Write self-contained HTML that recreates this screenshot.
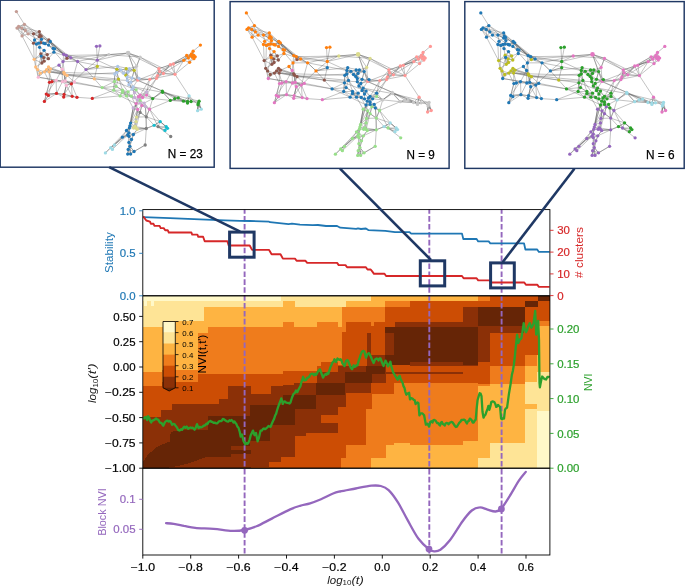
<!DOCTYPE html>
<html><head><meta charset="utf-8"><title>figure</title>
<style>
html,body{margin:0;padding:0;background:#fff;}
body{width:685px;height:587px;overflow:hidden;font-family:"Liberation Sans",sans-serif;}
svg{display:block;will-change:transform;}
svg text{font-family:"Liberation Sans",sans-serif;}
</style></head><body>
<svg width="685" height="587" viewBox="0 0 685 587">
<defs>
<clipPath id="c1"><rect x="142.8" y="209.6" width="407.1" height="86.2"/></clipPath>
<clipPath id="c2"><rect x="142.8" y="295.8" width="407.1" height="172.4"/></clipPath>
</defs>
<rect width="685" height="587" fill="#fff"/>
<rect x="0.2" y="0.2" width="214" height="167" fill="#fff" stroke="#1f3864" stroke-width="1.45"/>
<rect x="230.1" y="1.6" width="219" height="166.8" fill="#fff" stroke="#1f3864" stroke-width="1.45"/>
<rect x="464.8" y="1.6" width="219.4" height="166.8" fill="#fff" stroke="#1f3864" stroke-width="1.45"/>
<path d="M63.7 54.3L70.7 57.6M50.5 68.9L46.6 69.6M192.3 57.1L189.6 62.3M178.2 97.8L183.5 101.2M39.3 31.6L33.5 33.8M128.9 132.8L127.7 134.9M128.9 84.7L132.1 89.2M159.7 71.6L163.4 73.5M41.9 63.0L35.7 67.0M127.7 134.9L128.9 136.3M64.6 74.0L67.0 75.4M127.7 134.9L131.5 139.5M163.4 73.5L175.0 74.3M33.5 43.2L40.8 42.7M140.1 100.7L141.8 105.5M122.5 92.3L128.1 91.9M140.1 100.7L144.2 103.1M128.2 149.4L134.1 151.5M136.1 103.6L137.3 99.9M43.7 57.6L41.9 63.0M145.4 106.6L146.3 116.8M149.5 109.2L144.2 103.1M136.1 128.0L137.3 129.3M146.3 116.8L136.5 117.1M134.1 151.5L127.7 154.1M65.3 81.0L74.3 82.0M134.2 70.3L128.1 72.1M134.2 70.3L139.0 78.3M74.3 82.0L66.3 85.4M50.3 41.5L45.1 43.7M97.3 60.2L108.8 54.7M67.0 75.4L62.4 81.7M63.7 54.3L66.3 55.4M56.5 93.4L63.7 97.0M127.3 80.4L128.9 84.7M136.7 66.1L128.1 72.1M149.5 109.2L146.3 116.8M63.0 61.6L62.2 69.2M41.9 63.0L41.2 56.1M59.0 65.2L63.8 72.5M65.3 81.0L71.4 83.8M50.3 41.5L54.6 48.8M162.3 91.1L152.7 98.6M160.2 121.6L167.5 128.3M132.1 78.0L130.8 82.2M17.0 28.1L25.4 30.5M142.6 97.5L146.6 91.9M33.5 43.2L34.6 40.0M140.1 100.7L136.1 103.6M48.5 67.0L49.2 71.8M162.6 92.3L170.3 100.4M140.1 100.7L140.1 103.1M47.3 54.6L44.1 50.3M127.3 80.4L130.8 82.2M44.4 71.8L40.3 73.2M59.0 65.2L50.5 68.9M126.2 68.7L123.5 73.2M128.9 132.8L122.4 137.2M170.3 64.7L158.9 68.7M59.0 65.2L62.2 69.2M187.5 101.5L191.1 101.5M40.0 34.9L39.3 36.8M159.7 71.6L156.5 78.3M167.5 128.3L165.0 130.4M114.5 81.5L113.7 90.2M50.3 41.5L43.7 43.2M132.1 78.0L127.3 80.4M198.4 103.1L197.6 110.7M116.1 86.3L122.5 90.2M48.4 95.4L56.5 93.4M157.5 75.6L149.8 79.3M140.1 100.7L142.6 97.5M122.5 92.3L126.5 95.9M37.6 69.6L44.4 71.8M43.7 43.2L45.1 43.7M152.7 98.6L144.2 103.1M137.7 109.5L133.2 107.9M56.5 93.4L64.1 94.4M117.7 66.4L114.8 74.0M136.1 89.8L140.1 95.1M45.1 43.7L48.5 45.1M183.8 60.3L189.6 62.3M187.5 101.5L189.1 95.9M18.6 26.5L17.0 28.1M129.4 127.9L126.5 130.5M49.5 82.3L46.3 94.1M158.9 68.7L157.5 75.6M162.3 91.1L162.6 92.3M41.5 39.3L38.6 43.2M131.3 96.2L134.5 97.5M17.0 28.1L21.8 28.1M63.8 72.5L62.2 69.2M160.2 121.6L166.2 126.7M190.7 55.5L188.3 57.9M140.1 57.1L136.7 66.1M144.2 103.1L145.4 106.6M152.7 98.6L146.6 91.9M46.6 69.6L44.4 71.8M193.9 55.5L193.9 58.7M183.5 101.2L187.5 101.5M63.0 61.6L59.0 65.2M128.9 136.3L122.4 137.2M126.2 68.7L129.4 68.7M44.4 71.8L49.2 71.8M187.5 101.5L187.5 103.1M39.6 47.3L44.1 50.3M40.0 34.9L41.2 36.1M114.5 81.5L116.1 86.3M94.3 78.8L97.3 66.4M53.2 48.4L53.9 52.2M40.8 53.9L43.7 57.6M63.8 72.5L65.3 81.0M40.8 53.9L41.2 56.1M190.7 55.5L191.5 53.8M157.5 75.6L156.5 78.3M47.3 54.6L48.4 58.7M37.6 69.6L38.3 77.2M193.9 55.5L195.2 56.8M28.1 33.8L33.5 33.8M201.2 109.2L197.6 110.7M131.3 96.2L134.5 92.7M35.7 67.0L40.3 73.2M122.5 90.2L120.1 95.9M190.7 55.5L192.3 57.1M158.1 126.7L154.1 125.3M129.9 146.3L130.6 154.1M70.7 57.6L77.6 61.5M152.7 98.6L142.6 97.5M193.9 58.7L195.2 56.8M128.9 136.3L133.4 134.5M118.5 79.1L116.9 72.7M186.7 55.5L183.8 60.3M138.5 96.7L142.6 97.5M40.8 53.9L47.3 54.6M48.8 40.0L48.5 45.1M25.4 30.5L22.1 35.9M152.7 98.6L146.6 95.1M127.7 154.1L130.6 154.1M120.1 95.9L126.5 95.9M137.7 80.1L132.1 78.0M170.3 100.4L178.2 97.8M116.9 69.2L120.9 70.0M38.6 43.2L39.6 47.3M125.7 75.1L127.3 77.2M48.4 58.7L41.2 56.1M116.9 72.7L114.8 74.0M39.3 36.8L41.5 39.3M130.6 123.1L136.1 121.6M49.5 82.3L52.0 81.7M158.9 68.7L163.4 73.5M186.7 55.5L190.7 55.5M24.4 24.3L25.4 30.5M129.9 125.8L133.7 128.0M138.5 96.7L137.3 99.9M63.8 72.5L67.0 75.4M67.0 58.3L63.7 54.3M66.3 55.4L70.7 57.6M190.7 55.5L193.9 55.5M199.1 101.2L198.0 104.7M158.1 126.7L160.2 121.6M129.9 146.3L127.7 154.1M46.3 94.1L44.4 101.4M64.1 94.4L63.7 97.0M133.2 86.8L132.1 89.2M141.8 105.5L140.1 103.1M136.1 121.6L136.1 128.0M62.4 81.7L66.3 85.4M63.7 97.0L72.2 96.3M137.3 129.3L135.0 126.5M21.8 28.1L28.1 33.8M130.6 123.1L135.0 126.5M130.6 123.1L129.4 127.9M35.7 67.0L37.6 69.6M140.1 95.1L138.5 96.7M67.0 58.3L77.6 61.5M40.8 42.7L45.1 43.7M149.8 79.3L139.0 78.3M25.4 30.5L28.1 33.8M136.1 103.6L133.2 107.9M158.1 126.7L165.0 130.4M116.9 69.2L117.7 66.4M133.2 107.9L140.1 112.4M141.8 105.5L140.1 112.4M128.9 84.7L133.2 86.8M125.7 75.1L128.1 72.1M48.4 58.7L53.9 52.2M188.3 57.9L189.6 62.3M41.9 63.0L34.2 59.3M66.3 85.4L72.2 96.3M191.1 101.5L198.4 103.1M146.3 128.5L135.0 126.5M39.3 36.8L34.6 40.0M130.6 123.1L136.5 117.1M128.1 72.1L123.5 73.2M24.4 24.3L21.8 28.1M128.9 142.4L128.2 149.4M40.8 42.7L41.5 39.3M43.7 57.6L44.1 61.2M56.1 80.3L65.3 81.0M39.3 31.6L39.3 36.8M114.5 145.0L112.4 149.4M116.9 69.2L114.8 74.0M34.2 59.3L35.7 67.0M40.3 73.2L38.3 77.2M21.8 28.1L25.4 30.5M86.0 69.6L97.3 66.4M33.5 43.2L38.6 43.2M166.2 126.7L165.0 130.4M130.6 123.1L129.9 125.8M128.9 142.4L131.5 139.5M193.1 51.2L191.5 53.8M67.0 58.3L63.0 61.6M136.1 103.6L137.7 109.5M40.8 42.7L43.7 43.2M77.6 61.5L86.0 69.6M128.1 91.9L131.3 96.2M56.1 80.3L52.0 81.7M192.3 57.1L193.9 58.7M136.1 89.8L134.5 92.7M141.8 105.5L149.5 109.2M41.2 36.1L39.3 36.8M191.1 101.5L199.1 101.2M146.3 128.5L137.3 129.3M74.3 82.0L71.4 83.8M50.3 41.5L53.2 48.4M136.5 117.1L136.1 121.6M48.5 67.0L44.4 71.8M193.1 51.2L192.3 57.1M162.6 92.3L152.7 98.6M140.1 100.7L137.3 99.9M149.8 79.3L137.7 80.1M43.7 57.6L48.4 58.7M50.5 68.9L49.2 71.8M192.3 57.1L195.2 56.8M39.3 31.6L41.2 36.1M114.5 145.0L110.7 147.7M128.9 132.8L133.4 134.5M146.3 116.8L154.1 125.3M170.3 64.7L173.4 64.0M128.9 132.8L126.5 130.5M118.5 79.1L116.1 86.3M128.9 84.7L130.8 82.2M159.7 71.6L157.5 75.6M127.7 134.9L122.4 137.2M64.6 74.0L62.2 69.2M187.5 103.1L191.1 101.5M163.4 73.5L156.5 78.3M198.4 103.1L201.2 109.2M128.1 72.1L127.3 77.2M116.1 86.3L113.7 90.2M33.5 43.2L36.4 44.1M122.5 92.3L120.1 95.9M40.8 53.9L34.2 59.3M198.0 104.7L197.6 110.7M133.7 128.0L135.0 126.5M128.2 149.4L130.6 154.1M156.5 78.3L149.8 79.3M128.1 91.9L126.5 95.9M117.7 66.4L116.9 72.7M122.4 137.2L114.5 145.0M192.3 57.1L188.3 57.9M44.4 71.8L49.5 82.3M170.3 64.7L175.0 74.3M134.2 70.3L136.7 66.1M183.8 60.3L173.4 64.0M120.9 70.0L114.8 74.0M40.0 34.9L41.5 39.3M134.2 70.3L132.1 78.0M126.5 95.9L131.3 96.2M146.3 128.5L136.1 128.0M54.6 48.8L53.9 52.2M64.6 74.0L65.3 81.0M187.5 103.1L189.1 95.9M160.2 121.6L154.1 125.3M128.1 53.1L140.1 57.1M114.5 81.5L114.8 74.0M140.1 100.7L138.5 96.7M48.5 67.0L46.6 69.6M193.1 51.2L193.9 55.5M174.7 98.6L183.5 101.2M63.7 54.3L63.0 61.6M136.1 89.8L132.1 89.2M41.2 56.1L34.2 59.3M126.2 68.7L120.9 70.0M128.9 132.8L128.9 136.3M134.2 70.3L129.4 68.7M86.0 69.6L94.3 78.8M17.0 28.1L22.1 35.9M146.6 95.1L146.6 91.9M47.3 54.6L43.7 57.6M33.5 33.8L34.6 40.0M133.7 128.0L137.3 129.3M47.3 54.6L41.2 56.1M137.7 109.5L136.5 117.1M128.2 149.4L127.7 154.1M193.9 55.5L191.5 53.8M136.7 66.1L129.4 68.7M149.5 109.2L145.4 106.6M126.2 68.7L128.1 72.1M65.3 81.0L66.3 85.4M170.3 64.7L163.4 73.5M133.4 134.5L137.3 129.3M132.1 89.2L134.5 92.7M48.8 40.0L50.3 41.5M140.1 100.7L140.1 95.1M37.6 69.6L40.3 73.2M193.9 55.5L192.3 57.1M136.1 89.8L133.2 86.8M129.4 127.9L133.7 128.0M128.9 136.3L131.5 139.5M44.4 71.8L38.3 77.2M140.1 112.4L136.5 117.1M18.6 26.5L25.4 30.5M72.2 96.3L77.0 97.3M97.3 60.2L97.3 66.4M134.5 92.7L134.5 97.5M53.2 48.4L54.6 48.8M162.3 91.1L170.3 100.4M48.8 40.0L45.1 43.7M132.1 78.0L139.0 78.3M198.4 103.1L198.0 104.7M133.4 134.5L131.5 139.5M40.8 53.9L44.1 50.3M190.7 55.5L183.8 60.3M48.4 95.4L44.4 101.4M146.6 95.1L142.6 97.5M133.7 128.0L136.1 128.0M47.3 54.6L53.9 52.2M46.6 69.6L40.3 73.2M170.3 100.4L174.7 98.6M28.1 33.8L22.1 35.9M183.5 101.2L191.1 101.5M117.7 66.4L120.9 70.0M102.1 87.6L113.7 90.2M140.1 112.4L146.3 116.8M129.4 127.9L128.9 132.8M44.1 61.2L41.2 56.1M158.9 68.7L159.7 71.6M138.5 96.7L134.5 97.5M63.8 72.5L64.6 74.0M122.5 90.2L128.1 91.9M199.1 101.2L198.4 103.1M129.9 146.3L134.1 151.5M43.7 43.2L48.5 45.1M137.7 109.5L140.1 112.4M140.1 103.1L133.2 107.9M137.7 80.1L133.2 86.8M193.9 58.7L189.6 62.3M183.5 101.2L189.1 95.9M34.6 40.0L38.6 43.2M18.6 26.5L21.8 28.1M158.9 68.7L156.5 78.3M186.7 55.5L188.3 57.9M94.3 78.8L102.1 87.6M48.8 40.0L43.7 43.2M41.5 39.3L43.7 43.2M129.9 125.8L135.0 126.5M127.3 77.2L127.3 80.4M190.7 55.5L193.9 58.7M199.1 101.2L197.6 110.7M158.1 126.7L167.5 128.3M129.9 125.8L129.4 127.9M46.3 94.1L56.5 93.4M33.5 33.8L39.3 36.8M46.6 69.6L49.2 71.8M137.7 80.1L139.0 78.3M183.5 101.2L187.5 103.1M62.4 81.7L71.4 83.8M188.3 57.9L183.8 60.3M128.9 136.3L128.9 142.4M66.3 85.4L63.7 97.0M113.7 90.2L122.5 90.2M24.4 24.3L17.0 28.1M186.7 55.5L191.5 53.8M128.9 142.4L129.9 146.3M122.5 90.2L122.5 92.3M35.7 67.0L38.3 77.2M190.7 55.5L195.2 56.8M129.9 146.3L128.2 149.4M56.1 80.3L62.4 81.7M129.9 125.8L126.5 130.5M49.2 71.8L52.0 81.7M140.1 103.1L145.4 106.6M48.4 58.7L44.1 61.2M116.9 69.2L116.9 72.7M62.4 81.7L65.3 81.0M125.7 75.1L127.3 80.4M66.3 85.4L71.4 83.8M110.7 147.7L112.4 149.4M44.1 61.2L41.9 63.0M34.6 40.0L36.4 44.1M113.7 90.2L120.1 95.9M166.2 126.7L167.5 128.3M67.0 58.3L70.7 57.6M66.3 55.4L77.6 61.5M122.5 90.2L126.5 95.9M127.3 77.2L132.1 78.0M140.1 95.1L146.6 91.9M134.1 151.5L145.2 145.0M40.8 42.7L38.6 43.2M36.4 44.1L38.6 43.2M199.1 101.2L201.2 109.2M158.1 126.7L166.2 126.7M129.9 146.3L131.5 139.5M46.3 94.1L48.4 95.4M56.1 80.3L49.5 82.3M141.8 105.5L137.7 109.5M38.6 43.2L43.7 43.2M137.7 80.1L130.8 82.2M133.2 86.8L130.8 82.2M141.8 105.5L145.4 106.6M136.1 121.6L135.0 126.5M48.5 45.1L54.6 48.8M62.4 81.7L52.0 81.7M125.7 75.1L123.5 73.2M66.3 85.4L64.1 94.4M118.5 79.1L114.8 74.0M129.4 68.7L128.1 72.1M130.8 82.2L139.0 78.3M24.4 24.3L18.6 26.5M44.1 50.3L41.2 56.1M67.0 75.4L74.3 82.0M36.4 44.1L39.6 47.3M40.8 42.7L39.6 47.3M50.5 68.9L44.4 71.8M43.7 57.6L41.2 56.1M192.3 57.1L191.5 53.8M178.2 97.8L187.5 101.5M49.2 71.8L49.5 82.3M39.3 31.6L40.0 34.9M173.4 64.0L175.0 74.3M140.1 103.1L144.2 103.1M118.5 79.1L114.5 81.5M128.1 91.9L132.1 89.2M41.2 36.1L41.5 39.3M127.7 134.9L133.4 134.5M191.1 101.5L189.1 95.9M146.3 128.5L154.1 125.3M127.7 134.9L126.5 130.5M163.4 73.5L157.5 75.6M67.0 58.3L66.3 55.4M66.3 55.4L63.0 61.6M198.0 104.7L201.2 109.2M140.1 95.1L142.6 97.5M136.1 103.6L140.1 103.1M64.1 94.4L72.2 96.3M136.1 128.0L135.0 126.5M134.1 151.5L130.6 154.1M141.8 105.5L144.2 103.1M125.7 75.1L129.4 68.7M48.5 45.1L53.2 48.4M120.9 70.0L116.9 72.7M120.9 70.0L123.5 73.2M134.5 97.5L137.3 99.9M50.3 41.5L48.5 45.1M21.8 28.1L22.1 35.9M122.4 137.2L126.5 130.5M48.5 67.0L50.5 68.9M67.0 75.4L65.3 81.0M193.1 51.2L190.7 55.5M140.1 95.1L146.6 95.1M174.7 98.6L178.2 97.8M140.1 95.1L137.3 99.9M16.4 11.6L24.4 24.3M22.1 35.9L34.2 59.3M17.0 28.1L33.5 43.2M18.6 26.5L39.3 31.6M24.4 24.3L48.8 40.0M24.4 24.3L41.5 39.3M25.4 30.5L50.3 41.5M28.1 33.8L45.1 43.7M21.8 28.1L40.0 34.9M39.3 31.6L63.7 54.3M41.2 36.1L66.3 55.4M48.8 40.0L70.7 57.6M50.3 41.5L67.0 58.3M40.0 34.9L63.7 54.3M48.8 40.0L63.7 54.3M54.6 48.8L66.3 55.4M53.9 52.2L70.7 57.6M53.2 48.4L63.7 54.3M50.3 41.5L66.3 55.4M48.5 45.1L63.0 61.6M33.5 43.2L34.2 59.3M36.4 44.1L35.7 67.0M39.6 47.3L41.9 63.0M44.1 50.3L48.4 58.7M41.2 56.1L37.6 69.6M66.3 55.4L108.8 54.7M70.7 57.6L97.3 60.2M63.7 54.3L97.3 60.2M70.7 57.6L128.1 53.1M77.6 61.5L108.8 54.7M96.5 46.3L97.3 60.2M99.9 45.9L97.3 60.2M97.3 60.2L128.1 53.1M97.3 60.2L116.9 69.2M97.3 60.2L86.0 69.6M108.8 54.7L128.1 53.1M128.1 53.1L140.1 57.1M108.8 54.7L140.1 57.1M128.1 53.1L134.2 70.3M128.1 53.1L137.7 80.1M140.1 57.1L136.7 66.1M136.7 66.1L137.7 80.1M128.1 53.1L136.7 66.1M140.1 57.1L158.9 68.7M140.1 57.1L175.0 74.3M128.1 53.1L158.9 68.7M63.0 61.6L77.6 61.5M77.6 61.5L86.0 69.6M59.0 65.2L62.2 69.2M63.0 61.6L64.6 74.0M77.6 61.5L71.4 83.8M86.0 69.6L71.4 83.8M86.0 69.6L97.3 66.4M86.0 69.6L117.7 66.4M77.6 61.5L116.9 69.2M50.5 68.9L63.8 72.5M49.2 71.8L64.6 74.0M50.5 68.9L64.6 74.0M48.5 67.0L63.8 72.5M46.6 69.6L67.0 75.4M49.2 71.8L67.0 75.4M44.4 71.8L63.8 72.5M67.0 75.4L94.3 78.8M64.6 74.0L94.3 78.8M63.8 72.5L114.8 74.0M67.0 75.4L116.9 72.7M64.6 74.0L118.5 79.1M94.3 78.8L114.5 81.5M94.3 78.8L127.3 80.4M38.3 77.2L56.1 80.3M38.3 77.2L102.1 87.6M40.3 73.2L38.3 77.2M56.1 80.3L46.3 94.1M56.1 80.3L56.5 93.4M52.0 81.7L48.4 95.4M49.5 82.3L44.4 101.4M62.4 81.7L56.5 93.4M65.3 81.0L71.4 83.8M66.3 85.4L64.1 94.4M71.4 83.8L64.1 94.4M71.4 83.8L77.0 97.3M71.4 83.8L72.2 96.3M74.3 82.0L71.4 83.8M74.3 82.0L102.1 87.6M46.3 94.1L56.5 93.4M56.5 93.4L64.1 94.4M64.1 94.4L72.2 96.3M72.2 96.3L77.0 97.3M77.0 97.3L92.3 98.4M92.3 98.4L120.1 95.9M92.3 98.4L113.7 90.2M44.4 101.4L48.4 95.4M44.4 101.4L56.5 93.4M62.2 69.2L62.4 81.7M62.2 69.2L56.1 80.3M63.8 72.5L65.3 81.0M102.1 87.6L114.5 81.5M102.1 87.6L116.1 86.3M102.1 87.6L120.1 95.9M137.7 80.1L149.8 79.3M149.8 79.3L158.9 68.7M156.5 78.3L170.3 64.7M157.5 75.6L173.4 64.0M158.9 68.7L183.8 60.3M159.7 71.6L186.7 55.5M163.4 73.5L188.3 57.9M170.3 64.7L186.7 55.5M173.4 64.0L190.7 55.5M173.4 64.0L183.8 60.3M175.0 74.3L189.6 62.3M175.0 74.3L183.8 60.3M163.4 73.5L175.0 74.3M175.0 74.3L189.1 95.9M189.1 95.9L198.0 104.7M193.1 51.2L200.4 45.1M149.8 79.3L175.0 74.3M137.7 80.1L159.7 71.6M137.7 80.1L162.3 91.1M132.1 78.0L162.3 91.1M133.2 86.8L162.6 92.3M162.3 91.1L187.5 101.5M162.6 92.3L199.1 101.2M162.3 91.1L183.5 101.2M162.6 92.3L178.2 97.8M162.3 91.1L174.7 98.6M146.6 95.1L152.7 98.6M152.7 98.6L170.3 100.4M152.7 98.6L162.3 91.1M170.3 100.4L183.5 101.2M170.3 100.4L191.1 101.5M149.5 109.2L170.3 100.4M152.7 98.6L149.5 109.2M198.0 104.7L201.2 109.2M198.0 104.7L197.6 110.7M198.4 103.1L201.2 109.2M149.8 79.3L146.6 91.9M156.5 78.3L146.6 95.1M149.8 79.3L140.1 95.1M156.5 78.3L136.1 103.6M137.7 109.5L130.6 123.1M133.2 107.9L129.9 125.8M136.1 103.6L130.6 123.1M137.7 109.5L136.5 117.1M140.1 112.4L136.1 121.6M133.2 107.9L128.9 132.8M136.1 103.6L129.4 127.9M141.8 105.5L136.1 128.0M137.7 109.5L133.7 128.0M133.2 107.9L127.7 134.9M140.1 112.4L146.3 116.8M146.3 116.8L146.3 128.5M146.3 128.5L145.2 145.0M145.2 145.0L134.1 151.5M146.3 128.5L137.3 129.3M146.3 128.5L154.1 125.3M146.3 116.8L160.2 121.6M154.1 125.3L160.2 121.6M160.2 121.6L166.2 126.7M158.1 126.7L170.7 136.5M154.1 125.3L165.0 130.4M149.5 109.2L160.2 121.6M149.5 109.2L146.3 116.8M145.4 106.6L146.3 128.5M149.5 109.2L158.1 126.7M122.4 137.2L105.4 152.9M122.4 137.2L110.7 147.7M127.7 134.9L112.4 149.4M128.9 132.8L114.5 145.0M129.4 127.9L105.4 152.9M128.9 136.3L128.9 142.4M128.9 142.4L129.9 146.3M129.9 146.3L134.1 151.5M128.2 149.4L127.7 154.1M129.9 146.3L130.6 154.1M133.4 134.5L129.9 146.3M133.4 134.5L137.3 129.3M133.4 134.5L146.3 128.5M116.9 69.2L134.2 70.3M117.7 66.4L129.4 68.7M114.8 74.0L113.7 90.2M116.9 72.7L122.5 90.2M118.5 79.1L128.1 91.9M127.3 80.4L134.5 92.7M128.9 84.7L140.1 95.1M133.2 86.8L146.6 91.9M132.1 89.2L138.5 96.7M120.1 95.9L136.1 103.6M126.5 95.9L133.2 107.9M131.3 96.2L137.7 109.5M120.9 70.0L132.1 78.0M116.9 69.2L127.3 77.2M126.2 68.7L127.3 80.4M134.2 70.3L132.1 78.0M134.2 70.3L137.7 80.1M125.7 75.1L128.9 84.7M114.5 81.5L136.1 89.8M116.1 86.3L131.3 96.2M113.7 90.2L140.1 100.7M122.5 92.3L134.5 97.5" stroke="#5a5a5a" stroke-width="0.5" fill="none" stroke-opacity="0.72"/>
<circle cx="16.4" cy="11.6" r="1.65" fill="#c49c94"/>
<circle cx="24.4" cy="24.3" r="1.65" fill="#c49c94"/>
<circle cx="18.6" cy="26.5" r="1.65" fill="#c49c94"/>
<circle cx="17.0" cy="28.1" r="1.65" fill="#c49c94"/>
<circle cx="21.8" cy="28.1" r="1.65" fill="#c49c94"/>
<circle cx="25.4" cy="30.5" r="1.65" fill="#c49c94"/>
<circle cx="28.1" cy="33.8" r="1.65" fill="#c49c94"/>
<circle cx="22.1" cy="35.9" r="1.65" fill="#c49c94"/>
<circle cx="39.3" cy="31.6" r="1.65" fill="#8c564b"/>
<circle cx="33.5" cy="33.8" r="1.65" fill="#8c564b"/>
<circle cx="40.0" cy="34.9" r="1.65" fill="#8c564b"/>
<circle cx="41.2" cy="36.1" r="1.65" fill="#8c564b"/>
<circle cx="39.3" cy="36.8" r="1.65" fill="#8c564b"/>
<circle cx="48.8" cy="40.0" r="1.65" fill="#8c564b"/>
<circle cx="33.5" cy="43.2" r="1.65" fill="#8c564b"/>
<circle cx="40.8" cy="42.7" r="1.65" fill="#8c564b"/>
<circle cx="40.8" cy="53.9" r="1.65" fill="#8c564b"/>
<circle cx="47.3" cy="54.6" r="1.65" fill="#8c564b"/>
<circle cx="43.7" cy="57.6" r="1.65" fill="#8c564b"/>
<circle cx="48.4" cy="58.7" r="1.65" fill="#8c564b"/>
<circle cx="44.1" cy="61.2" r="1.65" fill="#8c564b"/>
<circle cx="41.9" cy="63.0" r="1.65" fill="#8c564b"/>
<circle cx="67.0" cy="58.3" r="1.65" fill="#8c564b"/>
<circle cx="34.6" cy="40.0" r="1.65" fill="#1f77b4"/>
<circle cx="41.5" cy="39.3" r="1.65" fill="#1f77b4"/>
<circle cx="50.3" cy="41.5" r="1.65" fill="#1f77b4"/>
<circle cx="36.4" cy="44.1" r="1.65" fill="#1f77b4"/>
<circle cx="38.6" cy="43.2" r="1.65" fill="#1f77b4"/>
<circle cx="43.7" cy="43.2" r="1.65" fill="#1f77b4"/>
<circle cx="45.1" cy="43.7" r="1.65" fill="#1f77b4"/>
<circle cx="48.5" cy="45.1" r="1.65" fill="#1f77b4"/>
<circle cx="39.6" cy="47.3" r="1.65" fill="#1f77b4"/>
<circle cx="53.2" cy="48.4" r="1.65" fill="#1f77b4"/>
<circle cx="54.6" cy="48.8" r="1.65" fill="#1f77b4"/>
<circle cx="44.1" cy="50.3" r="1.65" fill="#1f77b4"/>
<circle cx="53.9" cy="52.2" r="1.65" fill="#1f77b4"/>
<circle cx="41.2" cy="56.1" r="1.65" fill="#1f77b4"/>
<circle cx="130.6" cy="123.1" r="1.65" fill="#1f77b4"/>
<circle cx="129.9" cy="125.8" r="1.65" fill="#1f77b4"/>
<circle cx="129.4" cy="127.9" r="1.65" fill="#1f77b4"/>
<circle cx="128.9" cy="132.8" r="1.65" fill="#1f77b4"/>
<circle cx="127.7" cy="134.9" r="1.65" fill="#1f77b4"/>
<circle cx="128.9" cy="136.3" r="1.65" fill="#1f77b4"/>
<circle cx="133.4" cy="134.5" r="1.65" fill="#1f77b4"/>
<circle cx="122.4" cy="137.2" r="1.65" fill="#1f77b4"/>
<circle cx="128.9" cy="142.4" r="1.65" fill="#1f77b4"/>
<circle cx="129.9" cy="146.3" r="1.65" fill="#1f77b4"/>
<circle cx="128.2" cy="149.4" r="1.65" fill="#1f77b4"/>
<circle cx="134.1" cy="151.5" r="1.65" fill="#1f77b4"/>
<circle cx="127.7" cy="154.1" r="1.65" fill="#1f77b4"/>
<circle cx="130.6" cy="154.1" r="1.65" fill="#1f77b4"/>
<circle cx="131.5" cy="139.5" r="1.65" fill="#1f77b4"/>
<circle cx="126.5" cy="130.5" r="1.65" fill="#1f77b4"/>
<circle cx="96.5" cy="46.3" r="1.65" fill="#9467bd"/>
<circle cx="99.9" cy="45.9" r="1.65" fill="#9467bd"/>
<circle cx="63.7" cy="54.3" r="1.65" fill="#9467bd"/>
<circle cx="66.3" cy="55.4" r="1.65" fill="#9467bd"/>
<circle cx="70.7" cy="57.6" r="1.65" fill="#9467bd"/>
<circle cx="63.0" cy="61.6" r="1.65" fill="#9467bd"/>
<circle cx="77.6" cy="61.5" r="1.65" fill="#9467bd"/>
<circle cx="97.3" cy="60.2" r="1.65" fill="#9467bd"/>
<circle cx="59.0" cy="65.2" r="1.65" fill="#9467bd"/>
<circle cx="86.0" cy="69.6" r="1.65" fill="#9467bd"/>
<circle cx="34.2" cy="59.3" r="1.65" fill="#ffbb78"/>
<circle cx="35.7" cy="67.0" r="1.65" fill="#ffbb78"/>
<circle cx="37.6" cy="69.6" r="1.65" fill="#ffbb78"/>
<circle cx="48.5" cy="67.0" r="1.65" fill="#ffbb78"/>
<circle cx="50.5" cy="68.9" r="1.65" fill="#ffbb78"/>
<circle cx="46.6" cy="69.6" r="1.65" fill="#ffbb78"/>
<circle cx="44.4" cy="71.8" r="1.65" fill="#ffbb78"/>
<circle cx="49.2" cy="71.8" r="1.65" fill="#ffbb78"/>
<circle cx="40.3" cy="73.2" r="1.65" fill="#ffbb78"/>
<circle cx="63.8" cy="72.5" r="1.65" fill="#ffbb78"/>
<circle cx="64.6" cy="74.0" r="1.65" fill="#ffbb78"/>
<circle cx="67.0" cy="75.4" r="1.65" fill="#ffbb78"/>
<circle cx="94.3" cy="78.8" r="1.65" fill="#ffbb78"/>
<circle cx="62.2" cy="69.2" r="1.65" fill="#f7b6d2"/>
<circle cx="38.3" cy="77.2" r="1.65" fill="#f7b6d2"/>
<circle cx="56.1" cy="80.3" r="1.65" fill="#f7b6d2"/>
<circle cx="62.4" cy="81.7" r="1.65" fill="#f7b6d2"/>
<circle cx="65.3" cy="81.0" r="1.65" fill="#f7b6d2"/>
<circle cx="74.3" cy="82.0" r="1.65" fill="#f7b6d2"/>
<circle cx="66.3" cy="85.4" r="1.65" fill="#f7b6d2"/>
<circle cx="49.5" cy="82.3" r="1.65" fill="#d62728"/>
<circle cx="52.0" cy="81.7" r="1.65" fill="#d62728"/>
<circle cx="71.4" cy="83.8" r="1.65" fill="#d62728"/>
<circle cx="46.3" cy="94.1" r="1.65" fill="#d62728"/>
<circle cx="48.4" cy="95.4" r="1.65" fill="#d62728"/>
<circle cx="56.5" cy="93.4" r="1.65" fill="#d62728"/>
<circle cx="64.1" cy="94.4" r="1.65" fill="#d62728"/>
<circle cx="63.7" cy="97.0" r="1.65" fill="#d62728"/>
<circle cx="72.2" cy="96.3" r="1.65" fill="#d62728"/>
<circle cx="77.0" cy="97.3" r="1.65" fill="#d62728"/>
<circle cx="92.3" cy="98.4" r="1.65" fill="#d62728"/>
<circle cx="44.4" cy="101.4" r="1.65" fill="#d62728"/>
<circle cx="97.3" cy="66.4" r="1.65" fill="#bcbd22"/>
<circle cx="116.9" cy="69.2" r="1.65" fill="#bcbd22"/>
<circle cx="126.2" cy="68.7" r="1.65" fill="#bcbd22"/>
<circle cx="134.2" cy="70.3" r="1.65" fill="#bcbd22"/>
<circle cx="125.7" cy="75.1" r="1.65" fill="#bcbd22"/>
<circle cx="118.5" cy="79.1" r="1.65" fill="#bcbd22"/>
<circle cx="102.1" cy="87.6" r="1.65" fill="#98df8a"/>
<circle cx="114.5" cy="81.5" r="1.65" fill="#98df8a"/>
<circle cx="116.1" cy="86.3" r="1.65" fill="#98df8a"/>
<circle cx="113.7" cy="90.2" r="1.65" fill="#98df8a"/>
<circle cx="122.5" cy="90.2" r="1.65" fill="#98df8a"/>
<circle cx="122.5" cy="92.3" r="1.65" fill="#98df8a"/>
<circle cx="128.1" cy="91.9" r="1.65" fill="#98df8a"/>
<circle cx="136.1" cy="89.8" r="1.65" fill="#98df8a"/>
<circle cx="120.1" cy="95.9" r="1.65" fill="#98df8a"/>
<circle cx="126.5" cy="95.9" r="1.65" fill="#98df8a"/>
<circle cx="131.3" cy="96.2" r="1.65" fill="#98df8a"/>
<circle cx="140.1" cy="100.7" r="1.65" fill="#98df8a"/>
<circle cx="200.4" cy="45.1" r="1.65" fill="#ff7f0e"/>
<circle cx="193.1" cy="51.2" r="1.65" fill="#ff7f0e"/>
<circle cx="186.7" cy="55.5" r="1.65" fill="#ff7f0e"/>
<circle cx="190.7" cy="55.5" r="1.65" fill="#ff7f0e"/>
<circle cx="193.9" cy="55.5" r="1.65" fill="#ff7f0e"/>
<circle cx="192.3" cy="57.1" r="1.65" fill="#ff7f0e"/>
<circle cx="188.3" cy="57.9" r="1.65" fill="#ff7f0e"/>
<circle cx="193.9" cy="58.7" r="1.65" fill="#ff7f0e"/>
<circle cx="183.8" cy="60.3" r="1.65" fill="#ff7f0e"/>
<circle cx="189.6" cy="62.3" r="1.65" fill="#ff7f0e"/>
<circle cx="191.5" cy="53.8" r="1.65" fill="#ff7f0e"/>
<circle cx="195.2" cy="56.8" r="1.65" fill="#ff7f0e"/>
<circle cx="128.1" cy="53.1" r="2.3" fill="#c7c7c7"/>
<circle cx="108.8" cy="54.7" r="1.65" fill="#c7c7c7"/>
<circle cx="140.1" cy="57.1" r="1.65" fill="#c7c7c7"/>
<circle cx="136.7" cy="66.1" r="1.65" fill="#c7c7c7"/>
<circle cx="170.3" cy="64.7" r="1.65" fill="#ff9896"/>
<circle cx="173.4" cy="64.0" r="1.65" fill="#ff9896"/>
<circle cx="158.9" cy="68.7" r="1.65" fill="#ff9896"/>
<circle cx="159.7" cy="71.6" r="1.65" fill="#ff9896"/>
<circle cx="163.4" cy="73.5" r="1.65" fill="#ff9896"/>
<circle cx="175.0" cy="74.3" r="1.65" fill="#ff9896"/>
<circle cx="157.5" cy="75.6" r="1.65" fill="#ff9896"/>
<circle cx="156.5" cy="78.3" r="1.65" fill="#ff9896"/>
<circle cx="149.8" cy="79.3" r="1.65" fill="#ff9896"/>
<circle cx="137.7" cy="80.1" r="1.65" fill="#ff9896"/>
<circle cx="117.7" cy="66.4" r="1.65" fill="#aec7e8"/>
<circle cx="120.9" cy="70.0" r="1.65" fill="#aec7e8"/>
<circle cx="129.4" cy="68.7" r="1.65" fill="#aec7e8"/>
<circle cx="116.9" cy="72.7" r="1.65" fill="#aec7e8"/>
<circle cx="114.8" cy="74.0" r="1.65" fill="#aec7e8"/>
<circle cx="128.1" cy="72.1" r="1.65" fill="#aec7e8"/>
<circle cx="127.3" cy="77.2" r="1.65" fill="#aec7e8"/>
<circle cx="132.1" cy="78.0" r="1.65" fill="#aec7e8"/>
<circle cx="127.3" cy="80.4" r="1.65" fill="#aec7e8"/>
<circle cx="128.9" cy="84.7" r="1.65" fill="#aec7e8"/>
<circle cx="133.2" cy="86.8" r="1.65" fill="#aec7e8"/>
<circle cx="132.1" cy="89.2" r="1.65" fill="#aec7e8"/>
<circle cx="123.5" cy="73.2" r="1.65" fill="#aec7e8"/>
<circle cx="130.8" cy="82.2" r="1.65" fill="#aec7e8"/>
<circle cx="139.0" cy="78.3" r="1.65" fill="#aec7e8"/>
<circle cx="162.3" cy="91.1" r="1.65" fill="#2ca02c"/>
<circle cx="162.6" cy="92.3" r="1.65" fill="#2ca02c"/>
<circle cx="152.7" cy="98.6" r="1.65" fill="#2ca02c"/>
<circle cx="170.3" cy="100.4" r="1.65" fill="#2ca02c"/>
<circle cx="174.7" cy="98.6" r="1.65" fill="#2ca02c"/>
<circle cx="178.2" cy="97.8" r="1.65" fill="#2ca02c"/>
<circle cx="183.5" cy="101.2" r="1.65" fill="#2ca02c"/>
<circle cx="187.5" cy="101.5" r="1.65" fill="#2ca02c"/>
<circle cx="187.5" cy="103.1" r="1.65" fill="#2ca02c"/>
<circle cx="191.1" cy="101.5" r="1.65" fill="#2ca02c"/>
<circle cx="199.1" cy="101.2" r="1.65" fill="#2ca02c"/>
<circle cx="198.4" cy="103.1" r="1.65" fill="#2ca02c"/>
<circle cx="198.0" cy="104.7" r="1.65" fill="#2ca02c"/>
<circle cx="189.1" cy="95.9" r="1.65" fill="#9edae5"/>
<circle cx="201.2" cy="109.2" r="1.65" fill="#9edae5"/>
<circle cx="197.6" cy="110.7" r="1.65" fill="#9edae5"/>
<circle cx="114.5" cy="145.0" r="1.65" fill="#9edae5"/>
<circle cx="110.7" cy="147.7" r="1.65" fill="#9edae5"/>
<circle cx="112.4" cy="149.4" r="1.65" fill="#9edae5"/>
<circle cx="105.4" cy="152.9" r="1.65" fill="#9edae5"/>
<circle cx="140.1" cy="95.1" r="1.65" fill="#e377c2"/>
<circle cx="138.5" cy="96.7" r="1.65" fill="#e377c2"/>
<circle cx="146.6" cy="95.1" r="1.65" fill="#e377c2"/>
<circle cx="136.1" cy="103.6" r="1.65" fill="#e377c2"/>
<circle cx="141.8" cy="105.5" r="1.65" fill="#e377c2"/>
<circle cx="137.7" cy="109.5" r="1.65" fill="#e377c2"/>
<circle cx="149.5" cy="109.2" r="1.65" fill="#e377c2"/>
<circle cx="142.6" cy="97.5" r="1.65" fill="#e377c2"/>
<circle cx="146.6" cy="91.9" r="1.65" fill="#c5b0d5"/>
<circle cx="134.5" cy="92.7" r="1.65" fill="#c5b0d5"/>
<circle cx="134.5" cy="97.5" r="1.65" fill="#c5b0d5"/>
<circle cx="137.3" cy="99.9" r="1.65" fill="#c5b0d5"/>
<circle cx="140.1" cy="103.1" r="1.65" fill="#c5b0d5"/>
<circle cx="144.2" cy="103.1" r="1.65" fill="#c5b0d5"/>
<circle cx="145.4" cy="106.6" r="1.65" fill="#c5b0d5"/>
<circle cx="133.2" cy="107.9" r="1.65" fill="#c5b0d5"/>
<circle cx="140.1" cy="112.4" r="1.65" fill="#7f7f7f"/>
<circle cx="146.3" cy="116.8" r="1.65" fill="#7f7f7f"/>
<circle cx="146.3" cy="128.5" r="1.65" fill="#7f7f7f"/>
<circle cx="158.1" cy="126.7" r="1.65" fill="#7f7f7f"/>
<circle cx="170.7" cy="136.5" r="1.65" fill="#7f7f7f"/>
<circle cx="145.2" cy="145.0" r="1.65" fill="#7f7f7f"/>
<circle cx="136.5" cy="117.1" r="1.65" fill="#dbdb8d"/>
<circle cx="136.1" cy="121.6" r="1.65" fill="#dbdb8d"/>
<circle cx="133.7" cy="128.0" r="1.65" fill="#dbdb8d"/>
<circle cx="136.1" cy="128.0" r="1.65" fill="#dbdb8d"/>
<circle cx="137.3" cy="129.3" r="1.65" fill="#dbdb8d"/>
<circle cx="135.0" cy="126.5" r="1.65" fill="#dbdb8d"/>
<circle cx="160.2" cy="121.6" r="1.65" fill="#17becf"/>
<circle cx="154.1" cy="125.3" r="1.65" fill="#17becf"/>
<circle cx="166.2" cy="126.7" r="1.65" fill="#17becf"/>
<circle cx="167.5" cy="128.3" r="1.65" fill="#17becf"/>
<circle cx="165.0" cy="130.4" r="1.65" fill="#17becf"/>
<path d="M293.7 55.6L300.7 58.9M280.5 70.2L276.6 70.9M422.3 58.4L419.6 63.6M408.2 99.1L413.5 102.5M269.3 32.9L263.5 35.1M358.9 134.1L357.7 136.2M358.9 86.0L362.1 90.5M389.7 72.9L393.4 74.8M271.9 64.3L265.7 68.3M357.7 136.2L358.9 137.6M294.6 75.3L297.0 76.7M357.7 136.2L361.5 140.8M393.4 74.8L405.0 75.6M263.5 44.5L270.8 44.0M370.1 102.0L371.8 106.8M352.5 93.6L358.1 93.2M370.1 102.0L374.2 104.4M358.2 150.7L364.1 152.8M366.1 104.9L367.3 101.2M273.7 58.9L271.9 64.3M375.4 107.9L376.3 118.1M379.5 110.5L374.2 104.4M366.1 129.3L367.3 130.6M376.3 118.1L366.5 118.4M364.1 152.8L357.7 155.4M295.3 82.3L304.3 83.3M364.2 71.6L358.1 73.4M364.2 71.6L369.0 79.6M304.3 83.3L296.3 86.7M280.3 42.8L275.1 45.0M327.3 61.5L338.8 56.0M297.0 76.7L292.4 83.0M293.7 55.6L296.3 56.7M286.5 94.7L293.7 98.3M357.3 81.7L358.9 86.0M366.7 67.4L358.1 73.4M379.5 110.5L376.3 118.1M293.0 62.9L292.2 70.5M271.9 64.3L271.2 57.4M289.0 66.5L293.8 73.8M295.3 82.3L301.4 85.1M280.3 42.8L284.6 50.1M392.3 92.4L382.7 99.9M390.2 122.9L397.5 129.6M362.1 79.3L360.8 83.5M247.0 29.4L255.4 31.8M372.6 98.8L376.6 93.2M263.5 44.5L264.6 41.3M370.1 102.0L366.1 104.9M278.5 68.3L279.2 73.1M392.6 93.6L400.3 101.7M370.1 102.0L370.1 104.4M277.3 55.9L274.1 51.6M357.3 81.7L360.8 83.5M274.4 73.1L270.3 74.5M289.0 66.5L280.5 70.2M356.2 70.0L353.5 74.5M358.9 134.1L352.4 138.5M400.3 66.0L388.9 70.0M289.0 66.5L292.2 70.5M417.5 102.8L421.1 102.8M270.0 36.2L269.3 38.1M389.7 72.9L386.5 79.6M397.5 129.6L395.0 131.7M344.5 82.8L343.7 91.5M280.3 42.8L273.7 44.5M362.1 79.3L357.3 81.7M428.4 104.4L427.6 112.0M346.1 87.6L352.5 91.5M278.4 96.7L286.5 94.7M387.5 76.9L379.8 80.6M370.1 102.0L372.6 98.8M352.5 93.6L356.5 97.2M267.6 70.9L274.4 73.1M273.7 44.5L275.1 45.0M382.7 99.9L374.2 104.4M367.7 110.8L363.2 109.2M286.5 94.7L294.1 95.7M347.7 67.7L344.8 75.3M366.1 91.1L370.1 96.4M275.1 45.0L278.5 46.4M413.8 61.6L419.6 63.6M417.5 102.8L419.1 97.2M248.6 27.8L247.0 29.4M359.4 129.2L356.5 131.8M279.5 83.6L276.3 95.4M388.9 70.0L387.5 76.9M392.3 92.4L392.6 93.6M271.5 40.6L268.6 44.5M361.3 97.5L364.5 98.8M247.0 29.4L251.8 29.4M293.8 73.8L292.2 70.5M390.2 122.9L396.2 128.0M420.7 56.8L418.3 59.2M370.1 58.4L366.7 67.4M374.2 104.4L375.4 107.9M382.7 99.9L376.6 93.2M276.6 70.9L274.4 73.1M423.9 56.8L423.9 60.0M413.5 102.5L417.5 102.8M293.0 62.9L289.0 66.5M358.9 137.6L352.4 138.5M356.2 70.0L359.4 70.0M274.4 73.1L279.2 73.1M417.5 102.8L417.5 104.4M269.6 48.6L274.1 51.6M270.0 36.2L271.2 37.4M344.5 82.8L346.1 87.6M324.3 80.1L327.3 67.7M283.2 49.7L283.9 53.5M270.8 55.2L273.7 58.9M293.8 73.8L295.3 82.3M270.8 55.2L271.2 57.4M420.7 56.8L421.5 55.1M387.5 76.9L386.5 79.6M277.3 55.9L278.4 60.0M267.6 70.9L268.3 78.5M423.9 56.8L425.2 58.1M258.1 35.1L263.5 35.1M431.2 110.5L427.6 112.0M361.3 97.5L364.5 94.0M265.7 68.3L270.3 74.5M352.5 91.5L350.1 97.2M420.7 56.8L422.3 58.4M388.1 128.0L384.1 126.6M359.9 147.6L360.6 155.4M300.7 58.9L307.6 62.8M382.7 99.9L372.6 98.8M423.9 60.0L425.2 58.1M358.9 137.6L363.4 135.8M348.5 80.4L346.9 74.0M416.7 56.8L413.8 61.6M368.5 98.0L372.6 98.8M270.8 55.2L277.3 55.9M278.8 41.3L278.5 46.4M255.4 31.8L252.1 37.2M382.7 99.9L376.6 96.4M357.7 155.4L360.6 155.4M350.1 97.2L356.5 97.2M367.7 81.4L362.1 79.3M400.3 101.7L408.2 99.1M346.9 70.5L350.9 71.3M268.6 44.5L269.6 48.6M355.7 76.4L357.3 78.5M278.4 60.0L271.2 57.4M346.9 74.0L344.8 75.3M269.3 38.1L271.5 40.6M360.6 124.4L366.1 122.9M279.5 83.6L282.0 83.0M388.9 70.0L393.4 74.8M416.7 56.8L420.7 56.8M254.4 25.6L255.4 31.8M359.9 127.1L363.7 129.3M368.5 98.0L367.3 101.2M293.8 73.8L297.0 76.7M297.0 59.6L293.7 55.6M296.3 56.7L300.7 58.9M420.7 56.8L423.9 56.8M429.1 102.5L428.0 106.0M388.1 128.0L390.2 122.9M359.9 147.6L357.7 155.4M276.3 95.4L274.4 102.7M294.1 95.7L293.7 98.3M363.2 88.1L362.1 90.5M371.8 106.8L370.1 104.4M366.1 122.9L366.1 129.3M292.4 83.0L296.3 86.7M293.7 98.3L302.2 97.6M367.3 130.6L365.0 127.8M251.8 29.4L258.1 35.1M360.6 124.4L365.0 127.8M360.6 124.4L359.4 129.2M265.7 68.3L267.6 70.9M370.1 96.4L368.5 98.0M297.0 59.6L307.6 62.8M270.8 44.0L275.1 45.0M379.8 80.6L369.0 79.6M255.4 31.8L258.1 35.1M366.1 104.9L363.2 109.2M388.1 128.0L395.0 131.7M346.9 70.5L347.7 67.7M363.2 109.2L370.1 113.7M371.8 106.8L370.1 113.7M358.9 86.0L363.2 88.1M355.7 76.4L358.1 73.4M278.4 60.0L283.9 53.5M418.3 59.2L419.6 63.6M271.9 64.3L264.2 60.6M296.3 86.7L302.2 97.6M421.1 102.8L428.4 104.4M376.3 129.8L365.0 127.8M269.3 38.1L264.6 41.3M360.6 124.4L366.5 118.4M358.1 73.4L353.5 74.5M254.4 25.6L251.8 29.4M358.9 143.7L358.2 150.7M270.8 44.0L271.5 40.6M273.7 58.9L274.1 62.5M286.1 81.6L295.3 82.3M269.3 32.9L269.3 38.1M344.5 146.3L342.4 150.7M346.9 70.5L344.8 75.3M264.2 60.6L265.7 68.3M270.3 74.5L268.3 78.5M251.8 29.4L255.4 31.8M316.0 70.9L327.3 67.7M263.5 44.5L268.6 44.5M396.2 128.0L395.0 131.7M360.6 124.4L359.9 127.1M358.9 143.7L361.5 140.8M423.1 52.5L421.5 55.1M297.0 59.6L293.0 62.9M366.1 104.9L367.7 110.8M270.8 44.0L273.7 44.5M307.6 62.8L316.0 70.9M358.1 93.2L361.3 97.5M286.1 81.6L282.0 83.0M422.3 58.4L423.9 60.0M366.1 91.1L364.5 94.0M371.8 106.8L379.5 110.5M271.2 37.4L269.3 38.1M421.1 102.8L429.1 102.5M376.3 129.8L367.3 130.6M304.3 83.3L301.4 85.1M280.3 42.8L283.2 49.7M366.5 118.4L366.1 122.9M278.5 68.3L274.4 73.1M423.1 52.5L422.3 58.4M392.6 93.6L382.7 99.9M370.1 102.0L367.3 101.2M379.8 80.6L367.7 81.4M273.7 58.9L278.4 60.0M280.5 70.2L279.2 73.1M422.3 58.4L425.2 58.1M269.3 32.9L271.2 37.4M344.5 146.3L340.7 149.0M358.9 134.1L363.4 135.8M376.3 118.1L384.1 126.6M400.3 66.0L403.4 65.3M358.9 134.1L356.5 131.8M348.5 80.4L346.1 87.6M358.9 86.0L360.8 83.5M389.7 72.9L387.5 76.9M357.7 136.2L352.4 138.5M294.6 75.3L292.2 70.5M417.5 104.4L421.1 102.8M393.4 74.8L386.5 79.6M428.4 104.4L431.2 110.5M358.1 73.4L357.3 78.5M346.1 87.6L343.7 91.5M263.5 44.5L266.4 45.4M352.5 93.6L350.1 97.2M270.8 55.2L264.2 60.6M428.0 106.0L427.6 112.0M363.7 129.3L365.0 127.8M358.2 150.7L360.6 155.4M386.5 79.6L379.8 80.6M358.1 93.2L356.5 97.2M347.7 67.7L346.9 74.0M352.4 138.5L344.5 146.3M422.3 58.4L418.3 59.2M274.4 73.1L279.5 83.6M400.3 66.0L405.0 75.6M364.2 71.6L366.7 67.4M413.8 61.6L403.4 65.3M350.9 71.3L344.8 75.3M270.0 36.2L271.5 40.6M364.2 71.6L362.1 79.3M356.5 97.2L361.3 97.5M376.3 129.8L366.1 129.3M284.6 50.1L283.9 53.5M294.6 75.3L295.3 82.3M417.5 104.4L419.1 97.2M390.2 122.9L384.1 126.6M358.1 54.4L370.1 58.4M344.5 82.8L344.8 75.3M370.1 102.0L368.5 98.0M278.5 68.3L276.6 70.9M423.1 52.5L423.9 56.8M404.7 99.9L413.5 102.5M293.7 55.6L293.0 62.9M366.1 91.1L362.1 90.5M271.2 57.4L264.2 60.6M356.2 70.0L350.9 71.3M358.9 134.1L358.9 137.6M364.2 71.6L359.4 70.0M316.0 70.9L324.3 80.1M247.0 29.4L252.1 37.2M376.6 96.4L376.6 93.2M277.3 55.9L273.7 58.9M263.5 35.1L264.6 41.3M363.7 129.3L367.3 130.6M277.3 55.9L271.2 57.4M367.7 110.8L366.5 118.4M358.2 150.7L357.7 155.4M423.9 56.8L421.5 55.1M366.7 67.4L359.4 70.0M379.5 110.5L375.4 107.9M356.2 70.0L358.1 73.4M295.3 82.3L296.3 86.7M400.3 66.0L393.4 74.8M363.4 135.8L367.3 130.6M362.1 90.5L364.5 94.0M278.8 41.3L280.3 42.8M370.1 102.0L370.1 96.4M267.6 70.9L270.3 74.5M423.9 56.8L422.3 58.4M366.1 91.1L363.2 88.1M359.4 129.2L363.7 129.3M358.9 137.6L361.5 140.8M274.4 73.1L268.3 78.5M370.1 113.7L366.5 118.4M248.6 27.8L255.4 31.8M302.2 97.6L307.0 98.6M327.3 61.5L327.3 67.7M364.5 94.0L364.5 98.8M283.2 49.7L284.6 50.1M392.3 92.4L400.3 101.7M278.8 41.3L275.1 45.0M362.1 79.3L369.0 79.6M428.4 104.4L428.0 106.0M363.4 135.8L361.5 140.8M270.8 55.2L274.1 51.6M420.7 56.8L413.8 61.6M278.4 96.7L274.4 102.7M376.6 96.4L372.6 98.8M363.7 129.3L366.1 129.3M277.3 55.9L283.9 53.5M276.6 70.9L270.3 74.5M400.3 101.7L404.7 99.9M258.1 35.1L252.1 37.2M413.5 102.5L421.1 102.8M347.7 67.7L350.9 71.3M332.1 88.9L343.7 91.5M370.1 113.7L376.3 118.1M359.4 129.2L358.9 134.1M274.1 62.5L271.2 57.4M388.9 70.0L389.7 72.9M368.5 98.0L364.5 98.8M293.8 73.8L294.6 75.3M352.5 91.5L358.1 93.2M429.1 102.5L428.4 104.4M359.9 147.6L364.1 152.8M273.7 44.5L278.5 46.4M367.7 110.8L370.1 113.7M370.1 104.4L363.2 109.2M367.7 81.4L363.2 88.1M423.9 60.0L419.6 63.6M413.5 102.5L419.1 97.2M264.6 41.3L268.6 44.5M248.6 27.8L251.8 29.4M388.9 70.0L386.5 79.6M416.7 56.8L418.3 59.2M324.3 80.1L332.1 88.9M278.8 41.3L273.7 44.5M271.5 40.6L273.7 44.5M359.9 127.1L365.0 127.8M357.3 78.5L357.3 81.7M420.7 56.8L423.9 60.0M429.1 102.5L427.6 112.0M388.1 128.0L397.5 129.6M359.9 127.1L359.4 129.2M276.3 95.4L286.5 94.7M263.5 35.1L269.3 38.1M276.6 70.9L279.2 73.1M367.7 81.4L369.0 79.6M413.5 102.5L417.5 104.4M292.4 83.0L301.4 85.1M418.3 59.2L413.8 61.6M358.9 137.6L358.9 143.7M296.3 86.7L293.7 98.3M343.7 91.5L352.5 91.5M254.4 25.6L247.0 29.4M416.7 56.8L421.5 55.1M358.9 143.7L359.9 147.6M352.5 91.5L352.5 93.6M265.7 68.3L268.3 78.5M420.7 56.8L425.2 58.1M359.9 147.6L358.2 150.7M286.1 81.6L292.4 83.0M359.9 127.1L356.5 131.8M279.2 73.1L282.0 83.0M370.1 104.4L375.4 107.9M278.4 60.0L274.1 62.5M346.9 70.5L346.9 74.0M292.4 83.0L295.3 82.3M355.7 76.4L357.3 81.7M296.3 86.7L301.4 85.1M340.7 149.0L342.4 150.7M274.1 62.5L271.9 64.3M264.6 41.3L266.4 45.4M343.7 91.5L350.1 97.2M396.2 128.0L397.5 129.6M297.0 59.6L300.7 58.9M296.3 56.7L307.6 62.8M352.5 91.5L356.5 97.2M357.3 78.5L362.1 79.3M370.1 96.4L376.6 93.2M364.1 152.8L375.2 146.3M270.8 44.0L268.6 44.5M266.4 45.4L268.6 44.5M429.1 102.5L431.2 110.5M388.1 128.0L396.2 128.0M359.9 147.6L361.5 140.8M276.3 95.4L278.4 96.7M286.1 81.6L279.5 83.6M371.8 106.8L367.7 110.8M268.6 44.5L273.7 44.5M367.7 81.4L360.8 83.5M363.2 88.1L360.8 83.5M371.8 106.8L375.4 107.9M366.1 122.9L365.0 127.8M278.5 46.4L284.6 50.1M292.4 83.0L282.0 83.0M355.7 76.4L353.5 74.5M296.3 86.7L294.1 95.7M348.5 80.4L344.8 75.3M359.4 70.0L358.1 73.4M360.8 83.5L369.0 79.6M254.4 25.6L248.6 27.8M274.1 51.6L271.2 57.4M297.0 76.7L304.3 83.3M266.4 45.4L269.6 48.6M270.8 44.0L269.6 48.6M280.5 70.2L274.4 73.1M273.7 58.9L271.2 57.4M422.3 58.4L421.5 55.1M408.2 99.1L417.5 102.8M279.2 73.1L279.5 83.6M269.3 32.9L270.0 36.2M403.4 65.3L405.0 75.6M370.1 104.4L374.2 104.4M348.5 80.4L344.5 82.8M358.1 93.2L362.1 90.5M271.2 37.4L271.5 40.6M357.7 136.2L363.4 135.8M421.1 102.8L419.1 97.2M376.3 129.8L384.1 126.6M357.7 136.2L356.5 131.8M393.4 74.8L387.5 76.9M297.0 59.6L296.3 56.7M296.3 56.7L293.0 62.9M428.0 106.0L431.2 110.5M370.1 96.4L372.6 98.8M366.1 104.9L370.1 104.4M294.1 95.7L302.2 97.6M366.1 129.3L365.0 127.8M364.1 152.8L360.6 155.4M371.8 106.8L374.2 104.4M355.7 76.4L359.4 70.0M278.5 46.4L283.2 49.7M350.9 71.3L346.9 74.0M350.9 71.3L353.5 74.5M364.5 98.8L367.3 101.2M280.3 42.8L278.5 46.4M251.8 29.4L252.1 37.2M352.4 138.5L356.5 131.8M278.5 68.3L280.5 70.2M297.0 76.7L295.3 82.3M423.1 52.5L420.7 56.8M370.1 96.4L376.6 96.4M404.7 99.9L408.2 99.1M370.1 96.4L367.3 101.2M246.4 12.9L254.4 25.6M252.1 37.2L264.2 60.6M247.0 29.4L263.5 44.5M248.6 27.8L269.3 32.9M254.4 25.6L278.8 41.3M254.4 25.6L271.5 40.6M255.4 31.8L280.3 42.8M258.1 35.1L275.1 45.0M251.8 29.4L270.0 36.2M269.3 32.9L293.7 55.6M271.2 37.4L296.3 56.7M278.8 41.3L300.7 58.9M280.3 42.8L297.0 59.6M270.0 36.2L293.7 55.6M278.8 41.3L293.7 55.6M284.6 50.1L296.3 56.7M283.9 53.5L300.7 58.9M283.2 49.7L293.7 55.6M280.3 42.8L296.3 56.7M278.5 46.4L293.0 62.9M263.5 44.5L264.2 60.6M266.4 45.4L265.7 68.3M269.6 48.6L271.9 64.3M274.1 51.6L278.4 60.0M271.2 57.4L267.6 70.9M296.3 56.7L338.8 56.0M300.7 58.9L327.3 61.5M293.7 55.6L327.3 61.5M300.7 58.9L358.1 54.4M307.6 62.8L338.8 56.0M326.5 47.6L327.3 61.5M329.9 47.2L327.3 61.5M327.3 61.5L358.1 54.4M327.3 61.5L346.9 70.5M327.3 61.5L316.0 70.9M338.8 56.0L358.1 54.4M358.1 54.4L370.1 58.4M338.8 56.0L370.1 58.4M358.1 54.4L364.2 71.6M358.1 54.4L367.7 81.4M370.1 58.4L366.7 67.4M366.7 67.4L367.7 81.4M358.1 54.4L366.7 67.4M370.1 58.4L388.9 70.0M370.1 58.4L405.0 75.6M358.1 54.4L388.9 70.0M293.0 62.9L307.6 62.8M307.6 62.8L316.0 70.9M289.0 66.5L292.2 70.5M293.0 62.9L294.6 75.3M307.6 62.8L301.4 85.1M316.0 70.9L301.4 85.1M316.0 70.9L327.3 67.7M316.0 70.9L347.7 67.7M307.6 62.8L346.9 70.5M280.5 70.2L293.8 73.8M279.2 73.1L294.6 75.3M280.5 70.2L294.6 75.3M278.5 68.3L293.8 73.8M276.6 70.9L297.0 76.7M279.2 73.1L297.0 76.7M274.4 73.1L293.8 73.8M297.0 76.7L324.3 80.1M294.6 75.3L324.3 80.1M293.8 73.8L344.8 75.3M297.0 76.7L346.9 74.0M294.6 75.3L348.5 80.4M324.3 80.1L344.5 82.8M324.3 80.1L357.3 81.7M268.3 78.5L286.1 81.6M268.3 78.5L332.1 88.9M270.3 74.5L268.3 78.5M286.1 81.6L276.3 95.4M286.1 81.6L286.5 94.7M282.0 83.0L278.4 96.7M279.5 83.6L274.4 102.7M292.4 83.0L286.5 94.7M295.3 82.3L301.4 85.1M296.3 86.7L294.1 95.7M301.4 85.1L294.1 95.7M301.4 85.1L307.0 98.6M301.4 85.1L302.2 97.6M304.3 83.3L301.4 85.1M304.3 83.3L332.1 88.9M276.3 95.4L286.5 94.7M286.5 94.7L294.1 95.7M294.1 95.7L302.2 97.6M302.2 97.6L307.0 98.6M307.0 98.6L322.3 99.7M322.3 99.7L350.1 97.2M322.3 99.7L343.7 91.5M274.4 102.7L278.4 96.7M274.4 102.7L286.5 94.7M292.2 70.5L292.4 83.0M292.2 70.5L286.1 81.6M293.8 73.8L295.3 82.3M332.1 88.9L344.5 82.8M332.1 88.9L346.1 87.6M332.1 88.9L350.1 97.2M367.7 81.4L379.8 80.6M379.8 80.6L388.9 70.0M386.5 79.6L400.3 66.0M387.5 76.9L403.4 65.3M388.9 70.0L413.8 61.6M389.7 72.9L416.7 56.8M393.4 74.8L418.3 59.2M400.3 66.0L416.7 56.8M403.4 65.3L420.7 56.8M403.4 65.3L413.8 61.6M405.0 75.6L419.6 63.6M405.0 75.6L413.8 61.6M393.4 74.8L405.0 75.6M405.0 75.6L419.1 97.2M419.1 97.2L428.0 106.0M423.1 52.5L430.4 46.4M379.8 80.6L405.0 75.6M367.7 81.4L389.7 72.9M367.7 81.4L392.3 92.4M362.1 79.3L392.3 92.4M363.2 88.1L392.6 93.6M392.3 92.4L417.5 102.8M392.6 93.6L429.1 102.5M392.3 92.4L413.5 102.5M392.6 93.6L408.2 99.1M392.3 92.4L404.7 99.9M376.6 96.4L382.7 99.9M382.7 99.9L400.3 101.7M382.7 99.9L392.3 92.4M400.3 101.7L413.5 102.5M400.3 101.7L421.1 102.8M379.5 110.5L400.3 101.7M382.7 99.9L379.5 110.5M428.0 106.0L431.2 110.5M428.0 106.0L427.6 112.0M428.4 104.4L431.2 110.5M379.8 80.6L376.6 93.2M386.5 79.6L376.6 96.4M379.8 80.6L370.1 96.4M386.5 79.6L366.1 104.9M367.7 110.8L360.6 124.4M363.2 109.2L359.9 127.1M366.1 104.9L360.6 124.4M367.7 110.8L366.5 118.4M370.1 113.7L366.1 122.9M363.2 109.2L358.9 134.1M366.1 104.9L359.4 129.2M371.8 106.8L366.1 129.3M367.7 110.8L363.7 129.3M363.2 109.2L357.7 136.2M370.1 113.7L376.3 118.1M376.3 118.1L376.3 129.8M376.3 129.8L375.2 146.3M375.2 146.3L364.1 152.8M376.3 129.8L367.3 130.6M376.3 129.8L384.1 126.6M376.3 118.1L390.2 122.9M384.1 126.6L390.2 122.9M390.2 122.9L396.2 128.0M388.1 128.0L400.7 137.8M384.1 126.6L395.0 131.7M379.5 110.5L390.2 122.9M379.5 110.5L376.3 118.1M375.4 107.9L376.3 129.8M379.5 110.5L388.1 128.0M352.4 138.5L335.4 154.2M352.4 138.5L340.7 149.0M357.7 136.2L342.4 150.7M358.9 134.1L344.5 146.3M359.4 129.2L335.4 154.2M358.9 137.6L358.9 143.7M358.9 143.7L359.9 147.6M359.9 147.6L364.1 152.8M358.2 150.7L357.7 155.4M359.9 147.6L360.6 155.4M363.4 135.8L359.9 147.6M363.4 135.8L367.3 130.6M363.4 135.8L376.3 129.8M346.9 70.5L364.2 71.6M347.7 67.7L359.4 70.0M344.8 75.3L343.7 91.5M346.9 74.0L352.5 91.5M348.5 80.4L358.1 93.2M357.3 81.7L364.5 94.0M358.9 86.0L370.1 96.4M363.2 88.1L376.6 93.2M362.1 90.5L368.5 98.0M350.1 97.2L366.1 104.9M356.5 97.2L363.2 109.2M361.3 97.5L367.7 110.8M350.9 71.3L362.1 79.3M346.9 70.5L357.3 78.5M356.2 70.0L357.3 81.7M364.2 71.6L362.1 79.3M364.2 71.6L367.7 81.4M355.7 76.4L358.9 86.0M344.5 82.8L366.1 91.1M346.1 87.6L361.3 97.5M343.7 91.5L370.1 102.0M352.5 93.6L364.5 98.8" stroke="#5a5a5a" stroke-width="0.5" fill="none" stroke-opacity="0.72"/>
<circle cx="246.4" cy="12.9" r="1.65" fill="#ff7f0e"/>
<circle cx="254.4" cy="25.6" r="1.65" fill="#ff7f0e"/>
<circle cx="248.6" cy="27.8" r="1.65" fill="#ff7f0e"/>
<circle cx="247.0" cy="29.4" r="1.65" fill="#ff7f0e"/>
<circle cx="251.8" cy="29.4" r="1.65" fill="#ff7f0e"/>
<circle cx="255.4" cy="31.8" r="1.65" fill="#ff7f0e"/>
<circle cx="258.1" cy="35.1" r="1.65" fill="#ff7f0e"/>
<circle cx="252.1" cy="37.2" r="1.65" fill="#ff7f0e"/>
<circle cx="269.3" cy="32.9" r="1.65" fill="#ff7f0e"/>
<circle cx="263.5" cy="35.1" r="1.65" fill="#ff7f0e"/>
<circle cx="270.0" cy="36.2" r="1.65" fill="#ff7f0e"/>
<circle cx="271.2" cy="37.4" r="1.65" fill="#ff7f0e"/>
<circle cx="269.3" cy="38.1" r="1.65" fill="#ff7f0e"/>
<circle cx="278.8" cy="41.3" r="1.65" fill="#ff7f0e"/>
<circle cx="263.5" cy="44.5" r="1.65" fill="#ff7f0e"/>
<circle cx="270.8" cy="44.0" r="1.65" fill="#ff7f0e"/>
<circle cx="270.8" cy="55.2" r="1.65" fill="#8c564b"/>
<circle cx="277.3" cy="55.9" r="1.65" fill="#8c564b"/>
<circle cx="273.7" cy="58.9" r="1.65" fill="#8c564b"/>
<circle cx="278.4" cy="60.0" r="1.65" fill="#8c564b"/>
<circle cx="274.1" cy="62.5" r="1.65" fill="#8c564b"/>
<circle cx="271.9" cy="64.3" r="1.65" fill="#8c564b"/>
<circle cx="297.0" cy="59.6" r="1.65" fill="#8c564b"/>
<circle cx="264.6" cy="41.3" r="1.65" fill="#ff7f0e"/>
<circle cx="271.5" cy="40.6" r="1.65" fill="#ff7f0e"/>
<circle cx="280.3" cy="42.8" r="1.65" fill="#ff7f0e"/>
<circle cx="266.4" cy="45.4" r="1.65" fill="#ff7f0e"/>
<circle cx="268.6" cy="44.5" r="1.65" fill="#ff7f0e"/>
<circle cx="273.7" cy="44.5" r="1.65" fill="#ff7f0e"/>
<circle cx="275.1" cy="45.0" r="1.65" fill="#ff7f0e"/>
<circle cx="278.5" cy="46.4" r="1.65" fill="#ff7f0e"/>
<circle cx="269.6" cy="48.6" r="1.65" fill="#ff7f0e"/>
<circle cx="283.2" cy="49.7" r="1.65" fill="#ff7f0e"/>
<circle cx="284.6" cy="50.1" r="1.65" fill="#ff7f0e"/>
<circle cx="274.1" cy="51.6" r="1.65" fill="#ff7f0e"/>
<circle cx="283.9" cy="53.5" r="1.65" fill="#ff7f0e"/>
<circle cx="271.2" cy="57.4" r="1.65" fill="#ff7f0e"/>
<circle cx="360.6" cy="124.4" r="1.65" fill="#98df8a"/>
<circle cx="359.9" cy="127.1" r="1.65" fill="#98df8a"/>
<circle cx="359.4" cy="129.2" r="1.65" fill="#98df8a"/>
<circle cx="358.9" cy="134.1" r="1.65" fill="#98df8a"/>
<circle cx="357.7" cy="136.2" r="1.65" fill="#98df8a"/>
<circle cx="358.9" cy="137.6" r="1.65" fill="#98df8a"/>
<circle cx="363.4" cy="135.8" r="1.65" fill="#98df8a"/>
<circle cx="352.4" cy="138.5" r="1.65" fill="#98df8a"/>
<circle cx="358.9" cy="143.7" r="1.65" fill="#98df8a"/>
<circle cx="359.9" cy="147.6" r="1.65" fill="#98df8a"/>
<circle cx="358.2" cy="150.7" r="1.65" fill="#98df8a"/>
<circle cx="364.1" cy="152.8" r="1.65" fill="#98df8a"/>
<circle cx="357.7" cy="155.4" r="1.65" fill="#98df8a"/>
<circle cx="360.6" cy="155.4" r="1.65" fill="#98df8a"/>
<circle cx="361.5" cy="140.8" r="1.65" fill="#98df8a"/>
<circle cx="356.5" cy="131.8" r="1.65" fill="#98df8a"/>
<circle cx="326.5" cy="47.6" r="1.65" fill="#ff7f0e"/>
<circle cx="329.9" cy="47.2" r="1.65" fill="#ff7f0e"/>
<circle cx="293.7" cy="55.6" r="1.65" fill="#ff7f0e"/>
<circle cx="296.3" cy="56.7" r="1.65" fill="#ff7f0e"/>
<circle cx="300.7" cy="58.9" r="1.65" fill="#ff7f0e"/>
<circle cx="293.0" cy="62.9" r="1.65" fill="#ff7f0e"/>
<circle cx="307.6" cy="62.8" r="1.65" fill="#ff7f0e"/>
<circle cx="327.3" cy="61.5" r="1.65" fill="#ff7f0e"/>
<circle cx="289.0" cy="66.5" r="1.65" fill="#ff7f0e"/>
<circle cx="316.0" cy="70.9" r="1.65" fill="#ff7f0e"/>
<circle cx="264.2" cy="60.6" r="1.65" fill="#8c564b"/>
<circle cx="265.7" cy="68.3" r="1.65" fill="#8c564b"/>
<circle cx="267.6" cy="70.9" r="1.65" fill="#8c564b"/>
<circle cx="278.5" cy="68.3" r="1.65" fill="#8c564b"/>
<circle cx="280.5" cy="70.2" r="1.65" fill="#8c564b"/>
<circle cx="276.6" cy="70.9" r="1.65" fill="#8c564b"/>
<circle cx="274.4" cy="73.1" r="1.65" fill="#8c564b"/>
<circle cx="279.2" cy="73.1" r="1.65" fill="#8c564b"/>
<circle cx="270.3" cy="74.5" r="1.65" fill="#8c564b"/>
<circle cx="293.8" cy="73.8" r="1.65" fill="#8c564b"/>
<circle cx="294.6" cy="75.3" r="1.65" fill="#8c564b"/>
<circle cx="297.0" cy="76.7" r="1.65" fill="#8c564b"/>
<circle cx="324.3" cy="80.1" r="1.65" fill="#8c564b"/>
<circle cx="292.2" cy="70.5" r="1.65" fill="#e377c2"/>
<circle cx="268.3" cy="78.5" r="1.65" fill="#e377c2"/>
<circle cx="286.1" cy="81.6" r="1.65" fill="#e377c2"/>
<circle cx="292.4" cy="83.0" r="1.65" fill="#e377c2"/>
<circle cx="295.3" cy="82.3" r="1.65" fill="#e377c2"/>
<circle cx="304.3" cy="83.3" r="1.65" fill="#e377c2"/>
<circle cx="296.3" cy="86.7" r="1.65" fill="#e377c2"/>
<circle cx="279.5" cy="83.6" r="1.65" fill="#e377c2"/>
<circle cx="282.0" cy="83.0" r="1.65" fill="#e377c2"/>
<circle cx="301.4" cy="85.1" r="1.65" fill="#e377c2"/>
<circle cx="276.3" cy="95.4" r="1.65" fill="#e377c2"/>
<circle cx="278.4" cy="96.7" r="1.65" fill="#e377c2"/>
<circle cx="286.5" cy="94.7" r="1.65" fill="#e377c2"/>
<circle cx="294.1" cy="95.7" r="1.65" fill="#e377c2"/>
<circle cx="293.7" cy="98.3" r="1.65" fill="#e377c2"/>
<circle cx="302.2" cy="97.6" r="1.65" fill="#e377c2"/>
<circle cx="307.0" cy="98.6" r="1.65" fill="#e377c2"/>
<circle cx="322.3" cy="99.7" r="1.65" fill="#e377c2"/>
<circle cx="274.4" cy="102.7" r="1.65" fill="#e377c2"/>
<circle cx="327.3" cy="67.7" r="1.65" fill="#1f77b4"/>
<circle cx="346.9" cy="70.5" r="1.65" fill="#1f77b4"/>
<circle cx="356.2" cy="70.0" r="1.65" fill="#1f77b4"/>
<circle cx="364.2" cy="71.6" r="1.65" fill="#1f77b4"/>
<circle cx="355.7" cy="76.4" r="1.65" fill="#1f77b4"/>
<circle cx="348.5" cy="80.4" r="1.65" fill="#1f77b4"/>
<circle cx="332.1" cy="88.9" r="1.65" fill="#1f77b4"/>
<circle cx="344.5" cy="82.8" r="1.65" fill="#1f77b4"/>
<circle cx="346.1" cy="87.6" r="1.65" fill="#1f77b4"/>
<circle cx="343.7" cy="91.5" r="1.65" fill="#1f77b4"/>
<circle cx="352.5" cy="91.5" r="1.65" fill="#1f77b4"/>
<circle cx="352.5" cy="93.6" r="1.65" fill="#1f77b4"/>
<circle cx="358.1" cy="93.2" r="1.65" fill="#1f77b4"/>
<circle cx="366.1" cy="91.1" r="1.65" fill="#1f77b4"/>
<circle cx="350.1" cy="97.2" r="1.65" fill="#1f77b4"/>
<circle cx="356.5" cy="97.2" r="1.65" fill="#1f77b4"/>
<circle cx="361.3" cy="97.5" r="1.65" fill="#1f77b4"/>
<circle cx="370.1" cy="102.0" r="1.65" fill="#1f77b4"/>
<circle cx="430.4" cy="46.4" r="1.65" fill="#ff9896"/>
<circle cx="423.1" cy="52.5" r="1.65" fill="#ff9896"/>
<circle cx="416.7" cy="56.8" r="1.65" fill="#ff9896"/>
<circle cx="420.7" cy="56.8" r="1.65" fill="#ff9896"/>
<circle cx="423.9" cy="56.8" r="1.65" fill="#ff9896"/>
<circle cx="422.3" cy="58.4" r="1.65" fill="#ff9896"/>
<circle cx="418.3" cy="59.2" r="1.65" fill="#ff9896"/>
<circle cx="423.9" cy="60.0" r="1.65" fill="#ff9896"/>
<circle cx="413.8" cy="61.6" r="1.65" fill="#ff9896"/>
<circle cx="419.6" cy="63.6" r="1.65" fill="#ff9896"/>
<circle cx="421.5" cy="55.1" r="1.65" fill="#ff9896"/>
<circle cx="425.2" cy="58.1" r="1.65" fill="#ff9896"/>
<circle cx="358.1" cy="54.4" r="2.3" fill="#dbdb8d"/>
<circle cx="338.8" cy="56.0" r="1.65" fill="#dbdb8d"/>
<circle cx="370.1" cy="58.4" r="1.65" fill="#dbdb8d"/>
<circle cx="366.7" cy="67.4" r="1.65" fill="#dbdb8d"/>
<circle cx="400.3" cy="66.0" r="1.65" fill="#ff9896"/>
<circle cx="403.4" cy="65.3" r="1.65" fill="#ff9896"/>
<circle cx="388.9" cy="70.0" r="1.65" fill="#ff9896"/>
<circle cx="389.7" cy="72.9" r="1.65" fill="#ff9896"/>
<circle cx="393.4" cy="74.8" r="1.65" fill="#ff9896"/>
<circle cx="405.0" cy="75.6" r="1.65" fill="#ff9896"/>
<circle cx="387.5" cy="76.9" r="1.65" fill="#ff9896"/>
<circle cx="386.5" cy="79.6" r="1.65" fill="#ff9896"/>
<circle cx="379.8" cy="80.6" r="1.65" fill="#ff9896"/>
<circle cx="367.7" cy="81.4" r="1.65" fill="#ff9896"/>
<circle cx="347.7" cy="67.7" r="1.65" fill="#1f77b4"/>
<circle cx="350.9" cy="71.3" r="1.65" fill="#1f77b4"/>
<circle cx="359.4" cy="70.0" r="1.65" fill="#1f77b4"/>
<circle cx="346.9" cy="74.0" r="1.65" fill="#1f77b4"/>
<circle cx="344.8" cy="75.3" r="1.65" fill="#1f77b4"/>
<circle cx="358.1" cy="73.4" r="1.65" fill="#1f77b4"/>
<circle cx="357.3" cy="78.5" r="1.65" fill="#1f77b4"/>
<circle cx="362.1" cy="79.3" r="1.65" fill="#1f77b4"/>
<circle cx="357.3" cy="81.7" r="1.65" fill="#1f77b4"/>
<circle cx="358.9" cy="86.0" r="1.65" fill="#1f77b4"/>
<circle cx="363.2" cy="88.1" r="1.65" fill="#1f77b4"/>
<circle cx="362.1" cy="90.5" r="1.65" fill="#1f77b4"/>
<circle cx="353.5" cy="74.5" r="1.65" fill="#1f77b4"/>
<circle cx="360.8" cy="83.5" r="1.65" fill="#1f77b4"/>
<circle cx="369.0" cy="79.6" r="1.65" fill="#1f77b4"/>
<circle cx="392.3" cy="92.4" r="1.65" fill="#c7c7c7"/>
<circle cx="392.6" cy="93.6" r="1.65" fill="#c7c7c7"/>
<circle cx="382.7" cy="99.9" r="1.65" fill="#c7c7c7"/>
<circle cx="400.3" cy="101.7" r="1.65" fill="#c7c7c7"/>
<circle cx="404.7" cy="99.9" r="1.65" fill="#c7c7c7"/>
<circle cx="408.2" cy="99.1" r="1.65" fill="#c7c7c7"/>
<circle cx="413.5" cy="102.5" r="1.65" fill="#c7c7c7"/>
<circle cx="417.5" cy="102.8" r="1.65" fill="#c7c7c7"/>
<circle cx="417.5" cy="104.4" r="1.65" fill="#c7c7c7"/>
<circle cx="421.1" cy="102.8" r="1.65" fill="#c7c7c7"/>
<circle cx="429.1" cy="102.5" r="1.65" fill="#c7c7c7"/>
<circle cx="428.4" cy="104.4" r="1.65" fill="#c7c7c7"/>
<circle cx="428.0" cy="106.0" r="1.65" fill="#c7c7c7"/>
<circle cx="419.1" cy="97.2" r="1.65" fill="#ff9896"/>
<circle cx="431.2" cy="110.5" r="1.65" fill="#ff9896"/>
<circle cx="427.6" cy="112.0" r="1.65" fill="#ff9896"/>
<circle cx="344.5" cy="146.3" r="1.65" fill="#98df8a"/>
<circle cx="340.7" cy="149.0" r="1.65" fill="#98df8a"/>
<circle cx="342.4" cy="150.7" r="1.65" fill="#98df8a"/>
<circle cx="335.4" cy="154.2" r="1.65" fill="#98df8a"/>
<circle cx="370.1" cy="96.4" r="1.65" fill="#1f77b4"/>
<circle cx="368.5" cy="98.0" r="1.65" fill="#1f77b4"/>
<circle cx="376.6" cy="96.4" r="1.65" fill="#98df8a"/>
<circle cx="366.1" cy="104.9" r="1.65" fill="#1f77b4"/>
<circle cx="371.8" cy="106.8" r="1.65" fill="#98df8a"/>
<circle cx="367.7" cy="110.8" r="1.65" fill="#98df8a"/>
<circle cx="379.5" cy="110.5" r="1.65" fill="#98df8a"/>
<circle cx="372.6" cy="98.8" r="1.65" fill="#1f77b4"/>
<circle cx="376.6" cy="93.2" r="1.65" fill="#1f77b4"/>
<circle cx="364.5" cy="94.0" r="1.65" fill="#1f77b4"/>
<circle cx="364.5" cy="98.8" r="1.65" fill="#1f77b4"/>
<circle cx="367.3" cy="101.2" r="1.65" fill="#1f77b4"/>
<circle cx="370.1" cy="104.4" r="1.65" fill="#1f77b4"/>
<circle cx="374.2" cy="104.4" r="1.65" fill="#1f77b4"/>
<circle cx="375.4" cy="107.9" r="1.65" fill="#1f77b4"/>
<circle cx="363.2" cy="109.2" r="1.65" fill="#98df8a"/>
<circle cx="370.1" cy="113.7" r="1.65" fill="#98df8a"/>
<circle cx="376.3" cy="118.1" r="1.65" fill="#98df8a"/>
<circle cx="376.3" cy="129.8" r="1.65" fill="#98df8a"/>
<circle cx="388.1" cy="128.0" r="1.65" fill="#98df8a"/>
<circle cx="400.7" cy="137.8" r="1.65" fill="#98df8a"/>
<circle cx="375.2" cy="146.3" r="1.65" fill="#98df8a"/>
<circle cx="366.5" cy="118.4" r="1.65" fill="#98df8a"/>
<circle cx="366.1" cy="122.9" r="1.65" fill="#98df8a"/>
<circle cx="363.7" cy="129.3" r="1.65" fill="#98df8a"/>
<circle cx="366.1" cy="129.3" r="1.65" fill="#98df8a"/>
<circle cx="367.3" cy="130.6" r="1.65" fill="#98df8a"/>
<circle cx="365.0" cy="127.8" r="1.65" fill="#98df8a"/>
<circle cx="390.2" cy="122.9" r="1.65" fill="#9edae5"/>
<circle cx="384.1" cy="126.6" r="1.65" fill="#9edae5"/>
<circle cx="396.2" cy="128.0" r="1.65" fill="#9edae5"/>
<circle cx="397.5" cy="129.6" r="1.65" fill="#9edae5"/>
<circle cx="395.0" cy="131.7" r="1.65" fill="#9edae5"/>
<path d="M528.1 55.6L535.1 58.9M514.9 70.2L511.0 70.9M656.7 58.4L654.0 63.6M642.6 99.1L647.9 102.5M503.7 32.9L497.9 35.1M593.3 134.1L592.1 136.2M593.3 86.0L596.5 90.5M624.1 72.9L627.8 74.8M506.3 64.3L500.1 68.3M592.1 136.2L593.3 137.6M529.0 75.3L531.4 76.7M592.1 136.2L595.9 140.8M627.8 74.8L639.4 75.6M497.9 44.5L505.2 44.0M604.5 102.0L606.2 106.8M586.9 93.6L592.5 93.2M604.5 102.0L608.6 104.4M592.6 150.7L598.5 152.8M600.5 104.9L601.7 101.2M508.1 58.9L506.3 64.3M609.8 107.9L610.7 118.1M613.9 110.5L608.6 104.4M600.5 129.3L601.7 130.6M610.7 118.1L600.9 118.4M598.5 152.8L592.1 155.4M529.7 82.3L538.7 83.3M598.6 71.6L592.5 73.4M598.6 71.6L603.4 79.6M538.7 83.3L530.7 86.7M514.7 42.8L509.5 45.0M561.7 61.5L573.2 56.0M531.4 76.7L526.8 83.0M528.1 55.6L530.7 56.7M520.9 94.7L528.1 98.3M591.7 81.7L593.3 86.0M601.1 67.4L592.5 73.4M613.9 110.5L610.7 118.1M527.4 62.9L526.6 70.5M506.3 64.3L505.6 57.4M523.4 66.5L528.2 73.8M529.7 82.3L535.8 85.1M514.7 42.8L519.0 50.1M626.7 92.4L617.1 99.9M624.6 122.9L631.9 129.6M596.5 79.3L595.2 83.5M481.4 29.4L489.8 31.8M607.0 98.8L611.0 93.2M497.9 44.5L499.0 41.3M604.5 102.0L600.5 104.9M512.9 68.3L513.6 73.1M627.0 93.6L634.7 101.7M604.5 102.0L604.5 104.4M511.7 55.9L508.5 51.6M591.7 81.7L595.2 83.5M508.8 73.1L504.7 74.5M523.4 66.5L514.9 70.2M590.6 70.0L587.9 74.5M593.3 134.1L586.8 138.5M634.7 66.0L623.3 70.0M523.4 66.5L526.6 70.5M651.9 102.8L655.5 102.8M504.4 36.2L503.7 38.1M624.1 72.9L620.9 79.6M631.9 129.6L629.4 131.7M578.9 82.8L578.1 91.5M514.7 42.8L508.1 44.5M596.5 79.3L591.7 81.7M662.8 104.4L662.0 112.0M580.5 87.6L586.9 91.5M512.8 96.7L520.9 94.7M621.9 76.9L614.2 80.6M604.5 102.0L607.0 98.8M586.9 93.6L590.9 97.2M502.0 70.9L508.8 73.1M508.1 44.5L509.5 45.0M617.1 99.9L608.6 104.4M602.1 110.8L597.6 109.2M520.9 94.7L528.5 95.7M582.1 67.7L579.2 75.3M600.5 91.1L604.5 96.4M509.5 45.0L512.9 46.4M648.2 61.6L654.0 63.6M651.9 102.8L653.5 97.2M483.0 27.8L481.4 29.4M593.8 129.2L590.9 131.8M513.9 83.6L510.7 95.4M623.3 70.0L621.9 76.9M626.7 92.4L627.0 93.6M505.9 40.6L503.0 44.5M595.7 97.5L598.9 98.8M481.4 29.4L486.2 29.4M528.2 73.8L526.6 70.5M624.6 122.9L630.6 128.0M655.1 56.8L652.7 59.2M604.5 58.4L601.1 67.4M608.6 104.4L609.8 107.9M617.1 99.9L611.0 93.2M511.0 70.9L508.8 73.1M658.3 56.8L658.3 60.0M647.9 102.5L651.9 102.8M527.4 62.9L523.4 66.5M593.3 137.6L586.8 138.5M590.6 70.0L593.8 70.0M508.8 73.1L513.6 73.1M651.9 102.8L651.9 104.4M504.0 48.6L508.5 51.6M504.4 36.2L505.6 37.4M578.9 82.8L580.5 87.6M558.7 80.1L561.7 67.7M517.6 49.7L518.3 53.5M505.2 55.2L508.1 58.9M528.2 73.8L529.7 82.3M505.2 55.2L505.6 57.4M655.1 56.8L655.9 55.1M621.9 76.9L620.9 79.6M511.7 55.9L512.8 60.0M502.0 70.9L502.7 78.5M658.3 56.8L659.6 58.1M492.5 35.1L497.9 35.1M665.6 110.5L662.0 112.0M595.7 97.5L598.9 94.0M500.1 68.3L504.7 74.5M586.9 91.5L584.5 97.2M655.1 56.8L656.7 58.4M622.5 128.0L618.5 126.6M594.3 147.6L595.0 155.4M535.1 58.9L542.0 62.8M617.1 99.9L607.0 98.8M658.3 60.0L659.6 58.1M593.3 137.6L597.8 135.8M582.9 80.4L581.3 74.0M651.1 56.8L648.2 61.6M602.9 98.0L607.0 98.8M505.2 55.2L511.7 55.9M513.2 41.3L512.9 46.4M489.8 31.8L486.5 37.2M617.1 99.9L611.0 96.4M592.1 155.4L595.0 155.4M584.5 97.2L590.9 97.2M602.1 81.4L596.5 79.3M634.7 101.7L642.6 99.1M581.3 70.5L585.3 71.3M503.0 44.5L504.0 48.6M590.1 76.4L591.7 78.5M512.8 60.0L505.6 57.4M581.3 74.0L579.2 75.3M503.7 38.1L505.9 40.6M595.0 124.4L600.5 122.9M513.9 83.6L516.4 83.0M623.3 70.0L627.8 74.8M651.1 56.8L655.1 56.8M488.8 25.6L489.8 31.8M594.3 127.1L598.1 129.3M602.9 98.0L601.7 101.2M528.2 73.8L531.4 76.7M531.4 59.6L528.1 55.6M530.7 56.7L535.1 58.9M655.1 56.8L658.3 56.8M663.5 102.5L662.4 106.0M622.5 128.0L624.6 122.9M594.3 147.6L592.1 155.4M510.7 95.4L508.8 102.7M528.5 95.7L528.1 98.3M597.6 88.1L596.5 90.5M606.2 106.8L604.5 104.4M600.5 122.9L600.5 129.3M526.8 83.0L530.7 86.7M528.1 98.3L536.6 97.6M601.7 130.6L599.4 127.8M486.2 29.4L492.5 35.1M595.0 124.4L599.4 127.8M595.0 124.4L593.8 129.2M500.1 68.3L502.0 70.9M604.5 96.4L602.9 98.0M531.4 59.6L542.0 62.8M505.2 44.0L509.5 45.0M614.2 80.6L603.4 79.6M489.8 31.8L492.5 35.1M600.5 104.9L597.6 109.2M622.5 128.0L629.4 131.7M581.3 70.5L582.1 67.7M597.6 109.2L604.5 113.7M606.2 106.8L604.5 113.7M593.3 86.0L597.6 88.1M590.1 76.4L592.5 73.4M512.8 60.0L518.3 53.5M652.7 59.2L654.0 63.6M506.3 64.3L498.6 60.6M530.7 86.7L536.6 97.6M655.5 102.8L662.8 104.4M610.7 129.8L599.4 127.8M503.7 38.1L499.0 41.3M595.0 124.4L600.9 118.4M592.5 73.4L587.9 74.5M488.8 25.6L486.2 29.4M593.3 143.7L592.6 150.7M505.2 44.0L505.9 40.6M508.1 58.9L508.5 62.5M520.5 81.6L529.7 82.3M503.7 32.9L503.7 38.1M578.9 146.3L576.8 150.7M581.3 70.5L579.2 75.3M498.6 60.6L500.1 68.3M504.7 74.5L502.7 78.5M486.2 29.4L489.8 31.8M550.4 70.9L561.7 67.7M497.9 44.5L503.0 44.5M630.6 128.0L629.4 131.7M595.0 124.4L594.3 127.1M593.3 143.7L595.9 140.8M657.5 52.5L655.9 55.1M531.4 59.6L527.4 62.9M600.5 104.9L602.1 110.8M505.2 44.0L508.1 44.5M542.0 62.8L550.4 70.9M592.5 93.2L595.7 97.5M520.5 81.6L516.4 83.0M656.7 58.4L658.3 60.0M600.5 91.1L598.9 94.0M606.2 106.8L613.9 110.5M505.6 37.4L503.7 38.1M655.5 102.8L663.5 102.5M610.7 129.8L601.7 130.6M538.7 83.3L535.8 85.1M514.7 42.8L517.6 49.7M600.9 118.4L600.5 122.9M512.9 68.3L508.8 73.1M657.5 52.5L656.7 58.4M627.0 93.6L617.1 99.9M604.5 102.0L601.7 101.2M614.2 80.6L602.1 81.4M508.1 58.9L512.8 60.0M514.9 70.2L513.6 73.1M656.7 58.4L659.6 58.1M503.7 32.9L505.6 37.4M578.9 146.3L575.1 149.0M593.3 134.1L597.8 135.8M610.7 118.1L618.5 126.6M634.7 66.0L637.8 65.3M593.3 134.1L590.9 131.8M582.9 80.4L580.5 87.6M593.3 86.0L595.2 83.5M624.1 72.9L621.9 76.9M592.1 136.2L586.8 138.5M529.0 75.3L526.6 70.5M651.9 104.4L655.5 102.8M627.8 74.8L620.9 79.6M662.8 104.4L665.6 110.5M592.5 73.4L591.7 78.5M580.5 87.6L578.1 91.5M497.9 44.5L500.8 45.4M586.9 93.6L584.5 97.2M505.2 55.2L498.6 60.6M662.4 106.0L662.0 112.0M598.1 129.3L599.4 127.8M592.6 150.7L595.0 155.4M620.9 79.6L614.2 80.6M592.5 93.2L590.9 97.2M582.1 67.7L581.3 74.0M586.8 138.5L578.9 146.3M656.7 58.4L652.7 59.2M508.8 73.1L513.9 83.6M634.7 66.0L639.4 75.6M598.6 71.6L601.1 67.4M648.2 61.6L637.8 65.3M585.3 71.3L579.2 75.3M504.4 36.2L505.9 40.6M598.6 71.6L596.5 79.3M590.9 97.2L595.7 97.5M610.7 129.8L600.5 129.3M519.0 50.1L518.3 53.5M529.0 75.3L529.7 82.3M651.9 104.4L653.5 97.2M624.6 122.9L618.5 126.6M592.5 54.4L604.5 58.4M578.9 82.8L579.2 75.3M604.5 102.0L602.9 98.0M512.9 68.3L511.0 70.9M657.5 52.5L658.3 56.8M639.1 99.9L647.9 102.5M528.1 55.6L527.4 62.9M600.5 91.1L596.5 90.5M505.6 57.4L498.6 60.6M590.6 70.0L585.3 71.3M593.3 134.1L593.3 137.6M598.6 71.6L593.8 70.0M550.4 70.9L558.7 80.1M481.4 29.4L486.5 37.2M611.0 96.4L611.0 93.2M511.7 55.9L508.1 58.9M497.9 35.1L499.0 41.3M598.1 129.3L601.7 130.6M511.7 55.9L505.6 57.4M602.1 110.8L600.9 118.4M592.6 150.7L592.1 155.4M658.3 56.8L655.9 55.1M601.1 67.4L593.8 70.0M613.9 110.5L609.8 107.9M590.6 70.0L592.5 73.4M529.7 82.3L530.7 86.7M634.7 66.0L627.8 74.8M597.8 135.8L601.7 130.6M596.5 90.5L598.9 94.0M513.2 41.3L514.7 42.8M604.5 102.0L604.5 96.4M502.0 70.9L504.7 74.5M658.3 56.8L656.7 58.4M600.5 91.1L597.6 88.1M593.8 129.2L598.1 129.3M593.3 137.6L595.9 140.8M508.8 73.1L502.7 78.5M604.5 113.7L600.9 118.4M483.0 27.8L489.8 31.8M536.6 97.6L541.4 98.6M561.7 61.5L561.7 67.7M598.9 94.0L598.9 98.8M517.6 49.7L519.0 50.1M626.7 92.4L634.7 101.7M513.2 41.3L509.5 45.0M596.5 79.3L603.4 79.6M662.8 104.4L662.4 106.0M597.8 135.8L595.9 140.8M505.2 55.2L508.5 51.6M655.1 56.8L648.2 61.6M512.8 96.7L508.8 102.7M611.0 96.4L607.0 98.8M598.1 129.3L600.5 129.3M511.7 55.9L518.3 53.5M511.0 70.9L504.7 74.5M634.7 101.7L639.1 99.9M492.5 35.1L486.5 37.2M647.9 102.5L655.5 102.8M582.1 67.7L585.3 71.3M566.5 88.9L578.1 91.5M604.5 113.7L610.7 118.1M593.8 129.2L593.3 134.1M508.5 62.5L505.6 57.4M623.3 70.0L624.1 72.9M602.9 98.0L598.9 98.8M528.2 73.8L529.0 75.3M586.9 91.5L592.5 93.2M663.5 102.5L662.8 104.4M594.3 147.6L598.5 152.8M508.1 44.5L512.9 46.4M602.1 110.8L604.5 113.7M604.5 104.4L597.6 109.2M602.1 81.4L597.6 88.1M658.3 60.0L654.0 63.6M647.9 102.5L653.5 97.2M499.0 41.3L503.0 44.5M483.0 27.8L486.2 29.4M623.3 70.0L620.9 79.6M651.1 56.8L652.7 59.2M558.7 80.1L566.5 88.9M513.2 41.3L508.1 44.5M505.9 40.6L508.1 44.5M594.3 127.1L599.4 127.8M591.7 78.5L591.7 81.7M655.1 56.8L658.3 60.0M663.5 102.5L662.0 112.0M622.5 128.0L631.9 129.6M594.3 127.1L593.8 129.2M510.7 95.4L520.9 94.7M497.9 35.1L503.7 38.1M511.0 70.9L513.6 73.1M602.1 81.4L603.4 79.6M647.9 102.5L651.9 104.4M526.8 83.0L535.8 85.1M652.7 59.2L648.2 61.6M593.3 137.6L593.3 143.7M530.7 86.7L528.1 98.3M578.1 91.5L586.9 91.5M488.8 25.6L481.4 29.4M651.1 56.8L655.9 55.1M593.3 143.7L594.3 147.6M586.9 91.5L586.9 93.6M500.1 68.3L502.7 78.5M655.1 56.8L659.6 58.1M594.3 147.6L592.6 150.7M520.5 81.6L526.8 83.0M594.3 127.1L590.9 131.8M513.6 73.1L516.4 83.0M604.5 104.4L609.8 107.9M512.8 60.0L508.5 62.5M581.3 70.5L581.3 74.0M526.8 83.0L529.7 82.3M590.1 76.4L591.7 81.7M530.7 86.7L535.8 85.1M575.1 149.0L576.8 150.7M508.5 62.5L506.3 64.3M499.0 41.3L500.8 45.4M578.1 91.5L584.5 97.2M630.6 128.0L631.9 129.6M531.4 59.6L535.1 58.9M530.7 56.7L542.0 62.8M586.9 91.5L590.9 97.2M591.7 78.5L596.5 79.3M604.5 96.4L611.0 93.2M598.5 152.8L609.6 146.3M505.2 44.0L503.0 44.5M500.8 45.4L503.0 44.5M663.5 102.5L665.6 110.5M622.5 128.0L630.6 128.0M594.3 147.6L595.9 140.8M510.7 95.4L512.8 96.7M520.5 81.6L513.9 83.6M606.2 106.8L602.1 110.8M503.0 44.5L508.1 44.5M602.1 81.4L595.2 83.5M597.6 88.1L595.2 83.5M606.2 106.8L609.8 107.9M600.5 122.9L599.4 127.8M512.9 46.4L519.0 50.1M526.8 83.0L516.4 83.0M590.1 76.4L587.9 74.5M530.7 86.7L528.5 95.7M582.9 80.4L579.2 75.3M593.8 70.0L592.5 73.4M595.2 83.5L603.4 79.6M488.8 25.6L483.0 27.8M508.5 51.6L505.6 57.4M531.4 76.7L538.7 83.3M500.8 45.4L504.0 48.6M505.2 44.0L504.0 48.6M514.9 70.2L508.8 73.1M508.1 58.9L505.6 57.4M656.7 58.4L655.9 55.1M642.6 99.1L651.9 102.8M513.6 73.1L513.9 83.6M503.7 32.9L504.4 36.2M637.8 65.3L639.4 75.6M604.5 104.4L608.6 104.4M582.9 80.4L578.9 82.8M592.5 93.2L596.5 90.5M505.6 37.4L505.9 40.6M592.1 136.2L597.8 135.8M655.5 102.8L653.5 97.2M610.7 129.8L618.5 126.6M592.1 136.2L590.9 131.8M627.8 74.8L621.9 76.9M531.4 59.6L530.7 56.7M530.7 56.7L527.4 62.9M662.4 106.0L665.6 110.5M604.5 96.4L607.0 98.8M600.5 104.9L604.5 104.4M528.5 95.7L536.6 97.6M600.5 129.3L599.4 127.8M598.5 152.8L595.0 155.4M606.2 106.8L608.6 104.4M590.1 76.4L593.8 70.0M512.9 46.4L517.6 49.7M585.3 71.3L581.3 74.0M585.3 71.3L587.9 74.5M598.9 98.8L601.7 101.2M514.7 42.8L512.9 46.4M486.2 29.4L486.5 37.2M586.8 138.5L590.9 131.8M512.9 68.3L514.9 70.2M531.4 76.7L529.7 82.3M657.5 52.5L655.1 56.8M604.5 96.4L611.0 96.4M639.1 99.9L642.6 99.1M604.5 96.4L601.7 101.2M480.8 12.9L488.8 25.6M486.5 37.2L498.6 60.6M481.4 29.4L497.9 44.5M483.0 27.8L503.7 32.9M488.8 25.6L513.2 41.3M488.8 25.6L505.9 40.6M489.8 31.8L514.7 42.8M492.5 35.1L509.5 45.0M486.2 29.4L504.4 36.2M503.7 32.9L528.1 55.6M505.6 37.4L530.7 56.7M513.2 41.3L535.1 58.9M514.7 42.8L531.4 59.6M504.4 36.2L528.1 55.6M513.2 41.3L528.1 55.6M519.0 50.1L530.7 56.7M518.3 53.5L535.1 58.9M517.6 49.7L528.1 55.6M514.7 42.8L530.7 56.7M512.9 46.4L527.4 62.9M497.9 44.5L498.6 60.6M500.8 45.4L500.1 68.3M504.0 48.6L506.3 64.3M508.5 51.6L512.8 60.0M505.6 57.4L502.0 70.9M530.7 56.7L573.2 56.0M535.1 58.9L561.7 61.5M528.1 55.6L561.7 61.5M535.1 58.9L592.5 54.4M542.0 62.8L573.2 56.0M560.9 47.6L561.7 61.5M564.3 47.2L561.7 61.5M561.7 61.5L592.5 54.4M561.7 61.5L581.3 70.5M561.7 61.5L550.4 70.9M573.2 56.0L592.5 54.4M592.5 54.4L604.5 58.4M573.2 56.0L604.5 58.4M592.5 54.4L598.6 71.6M592.5 54.4L602.1 81.4M604.5 58.4L601.1 67.4M601.1 67.4L602.1 81.4M592.5 54.4L601.1 67.4M604.5 58.4L623.3 70.0M604.5 58.4L639.4 75.6M592.5 54.4L623.3 70.0M527.4 62.9L542.0 62.8M542.0 62.8L550.4 70.9M523.4 66.5L526.6 70.5M527.4 62.9L529.0 75.3M542.0 62.8L535.8 85.1M550.4 70.9L535.8 85.1M550.4 70.9L561.7 67.7M550.4 70.9L582.1 67.7M542.0 62.8L581.3 70.5M514.9 70.2L528.2 73.8M513.6 73.1L529.0 75.3M514.9 70.2L529.0 75.3M512.9 68.3L528.2 73.8M511.0 70.9L531.4 76.7M513.6 73.1L531.4 76.7M508.8 73.1L528.2 73.8M531.4 76.7L558.7 80.1M529.0 75.3L558.7 80.1M528.2 73.8L579.2 75.3M531.4 76.7L581.3 74.0M529.0 75.3L582.9 80.4M558.7 80.1L578.9 82.8M558.7 80.1L591.7 81.7M502.7 78.5L520.5 81.6M502.7 78.5L566.5 88.9M504.7 74.5L502.7 78.5M520.5 81.6L510.7 95.4M520.5 81.6L520.9 94.7M516.4 83.0L512.8 96.7M513.9 83.6L508.8 102.7M526.8 83.0L520.9 94.7M529.7 82.3L535.8 85.1M530.7 86.7L528.5 95.7M535.8 85.1L528.5 95.7M535.8 85.1L541.4 98.6M535.8 85.1L536.6 97.6M538.7 83.3L535.8 85.1M538.7 83.3L566.5 88.9M510.7 95.4L520.9 94.7M520.9 94.7L528.5 95.7M528.5 95.7L536.6 97.6M536.6 97.6L541.4 98.6M541.4 98.6L556.7 99.7M556.7 99.7L584.5 97.2M556.7 99.7L578.1 91.5M508.8 102.7L512.8 96.7M508.8 102.7L520.9 94.7M526.6 70.5L526.8 83.0M526.6 70.5L520.5 81.6M528.2 73.8L529.7 82.3M566.5 88.9L578.9 82.8M566.5 88.9L580.5 87.6M566.5 88.9L584.5 97.2M602.1 81.4L614.2 80.6M614.2 80.6L623.3 70.0M620.9 79.6L634.7 66.0M621.9 76.9L637.8 65.3M623.3 70.0L648.2 61.6M624.1 72.9L651.1 56.8M627.8 74.8L652.7 59.2M634.7 66.0L651.1 56.8M637.8 65.3L655.1 56.8M637.8 65.3L648.2 61.6M639.4 75.6L654.0 63.6M639.4 75.6L648.2 61.6M627.8 74.8L639.4 75.6M639.4 75.6L653.5 97.2M653.5 97.2L662.4 106.0M657.5 52.5L664.8 46.4M614.2 80.6L639.4 75.6M602.1 81.4L624.1 72.9M602.1 81.4L626.7 92.4M596.5 79.3L626.7 92.4M597.6 88.1L627.0 93.6M626.7 92.4L651.9 102.8M627.0 93.6L663.5 102.5M626.7 92.4L647.9 102.5M627.0 93.6L642.6 99.1M626.7 92.4L639.1 99.9M611.0 96.4L617.1 99.9M617.1 99.9L634.7 101.7M617.1 99.9L626.7 92.4M634.7 101.7L647.9 102.5M634.7 101.7L655.5 102.8M613.9 110.5L634.7 101.7M617.1 99.9L613.9 110.5M662.4 106.0L665.6 110.5M662.4 106.0L662.0 112.0M662.8 104.4L665.6 110.5M614.2 80.6L611.0 93.2M620.9 79.6L611.0 96.4M614.2 80.6L604.5 96.4M620.9 79.6L600.5 104.9M602.1 110.8L595.0 124.4M597.6 109.2L594.3 127.1M600.5 104.9L595.0 124.4M602.1 110.8L600.9 118.4M604.5 113.7L600.5 122.9M597.6 109.2L593.3 134.1M600.5 104.9L593.8 129.2M606.2 106.8L600.5 129.3M602.1 110.8L598.1 129.3M597.6 109.2L592.1 136.2M604.5 113.7L610.7 118.1M610.7 118.1L610.7 129.8M610.7 129.8L609.6 146.3M609.6 146.3L598.5 152.8M610.7 129.8L601.7 130.6M610.7 129.8L618.5 126.6M610.7 118.1L624.6 122.9M618.5 126.6L624.6 122.9M624.6 122.9L630.6 128.0M622.5 128.0L635.1 137.8M618.5 126.6L629.4 131.7M613.9 110.5L624.6 122.9M613.9 110.5L610.7 118.1M609.8 107.9L610.7 129.8M613.9 110.5L622.5 128.0M586.8 138.5L569.8 154.2M586.8 138.5L575.1 149.0M592.1 136.2L576.8 150.7M593.3 134.1L578.9 146.3M593.8 129.2L569.8 154.2M593.3 137.6L593.3 143.7M593.3 143.7L594.3 147.6M594.3 147.6L598.5 152.8M592.6 150.7L592.1 155.4M594.3 147.6L595.0 155.4M597.8 135.8L594.3 147.6M597.8 135.8L601.7 130.6M597.8 135.8L610.7 129.8M581.3 70.5L598.6 71.6M582.1 67.7L593.8 70.0M579.2 75.3L578.1 91.5M581.3 74.0L586.9 91.5M582.9 80.4L592.5 93.2M591.7 81.7L598.9 94.0M593.3 86.0L604.5 96.4M597.6 88.1L611.0 93.2M596.5 90.5L602.9 98.0M584.5 97.2L600.5 104.9M590.9 97.2L597.6 109.2M595.7 97.5L602.1 110.8M585.3 71.3L596.5 79.3M581.3 70.5L591.7 78.5M590.6 70.0L591.7 81.7M598.6 71.6L596.5 79.3M598.6 71.6L602.1 81.4M590.1 76.4L593.3 86.0M578.9 82.8L600.5 91.1M580.5 87.6L595.7 97.5M578.1 91.5L604.5 102.0M586.9 93.6L598.9 98.8" stroke="#5a5a5a" stroke-width="0.5" fill="none" stroke-opacity="0.72"/>
<circle cx="480.8" cy="12.9" r="1.65" fill="#1f77b4"/>
<circle cx="488.8" cy="25.6" r="1.65" fill="#1f77b4"/>
<circle cx="483.0" cy="27.8" r="1.65" fill="#1f77b4"/>
<circle cx="481.4" cy="29.4" r="1.65" fill="#1f77b4"/>
<circle cx="486.2" cy="29.4" r="1.65" fill="#1f77b4"/>
<circle cx="489.8" cy="31.8" r="1.65" fill="#1f77b4"/>
<circle cx="492.5" cy="35.1" r="1.65" fill="#1f77b4"/>
<circle cx="486.5" cy="37.2" r="1.65" fill="#1f77b4"/>
<circle cx="503.7" cy="32.9" r="1.65" fill="#1f77b4"/>
<circle cx="497.9" cy="35.1" r="1.65" fill="#1f77b4"/>
<circle cx="504.4" cy="36.2" r="1.65" fill="#1f77b4"/>
<circle cx="505.6" cy="37.4" r="1.65" fill="#1f77b4"/>
<circle cx="503.7" cy="38.1" r="1.65" fill="#1f77b4"/>
<circle cx="513.2" cy="41.3" r="1.65" fill="#1f77b4"/>
<circle cx="497.9" cy="44.5" r="1.65" fill="#1f77b4"/>
<circle cx="505.2" cy="44.0" r="1.65" fill="#1f77b4"/>
<circle cx="505.2" cy="55.2" r="1.65" fill="#bcbd22"/>
<circle cx="511.7" cy="55.9" r="1.65" fill="#bcbd22"/>
<circle cx="508.1" cy="58.9" r="1.65" fill="#bcbd22"/>
<circle cx="512.8" cy="60.0" r="1.65" fill="#bcbd22"/>
<circle cx="508.5" cy="62.5" r="1.65" fill="#bcbd22"/>
<circle cx="506.3" cy="64.3" r="1.65" fill="#bcbd22"/>
<circle cx="531.4" cy="59.6" r="1.65" fill="#bcbd22"/>
<circle cx="499.0" cy="41.3" r="1.65" fill="#1f77b4"/>
<circle cx="505.9" cy="40.6" r="1.65" fill="#1f77b4"/>
<circle cx="514.7" cy="42.8" r="1.65" fill="#1f77b4"/>
<circle cx="500.8" cy="45.4" r="1.65" fill="#1f77b4"/>
<circle cx="503.0" cy="44.5" r="1.65" fill="#1f77b4"/>
<circle cx="508.1" cy="44.5" r="1.65" fill="#1f77b4"/>
<circle cx="509.5" cy="45.0" r="1.65" fill="#1f77b4"/>
<circle cx="512.9" cy="46.4" r="1.65" fill="#1f77b4"/>
<circle cx="504.0" cy="48.6" r="1.65" fill="#1f77b4"/>
<circle cx="517.6" cy="49.7" r="1.65" fill="#1f77b4"/>
<circle cx="519.0" cy="50.1" r="1.65" fill="#1f77b4"/>
<circle cx="508.5" cy="51.6" r="1.65" fill="#1f77b4"/>
<circle cx="518.3" cy="53.5" r="1.65" fill="#1f77b4"/>
<circle cx="505.6" cy="57.4" r="1.65" fill="#1f77b4"/>
<circle cx="595.0" cy="124.4" r="1.65" fill="#9467bd"/>
<circle cx="594.3" cy="127.1" r="1.65" fill="#9467bd"/>
<circle cx="593.8" cy="129.2" r="1.65" fill="#9467bd"/>
<circle cx="593.3" cy="134.1" r="1.65" fill="#9467bd"/>
<circle cx="592.1" cy="136.2" r="1.65" fill="#9467bd"/>
<circle cx="593.3" cy="137.6" r="1.65" fill="#9467bd"/>
<circle cx="597.8" cy="135.8" r="1.65" fill="#9467bd"/>
<circle cx="586.8" cy="138.5" r="1.65" fill="#9467bd"/>
<circle cx="593.3" cy="143.7" r="1.65" fill="#9467bd"/>
<circle cx="594.3" cy="147.6" r="1.65" fill="#9467bd"/>
<circle cx="592.6" cy="150.7" r="1.65" fill="#9467bd"/>
<circle cx="598.5" cy="152.8" r="1.65" fill="#9467bd"/>
<circle cx="592.1" cy="155.4" r="1.65" fill="#9467bd"/>
<circle cx="595.0" cy="155.4" r="1.65" fill="#9467bd"/>
<circle cx="595.9" cy="140.8" r="1.65" fill="#9467bd"/>
<circle cx="590.9" cy="131.8" r="1.65" fill="#9467bd"/>
<circle cx="560.9" cy="47.6" r="1.65" fill="#2ca02c"/>
<circle cx="564.3" cy="47.2" r="1.65" fill="#2ca02c"/>
<circle cx="528.1" cy="55.6" r="1.65" fill="#1f77b4"/>
<circle cx="530.7" cy="56.7" r="1.65" fill="#1f77b4"/>
<circle cx="535.1" cy="58.9" r="1.65" fill="#1f77b4"/>
<circle cx="527.4" cy="62.9" r="1.65" fill="#1f77b4"/>
<circle cx="542.0" cy="62.8" r="1.65" fill="#1f77b4"/>
<circle cx="561.7" cy="61.5" r="1.65" fill="#2ca02c"/>
<circle cx="523.4" cy="66.5" r="1.65" fill="#1f77b4"/>
<circle cx="550.4" cy="70.9" r="1.65" fill="#1f77b4"/>
<circle cx="498.6" cy="60.6" r="1.65" fill="#bcbd22"/>
<circle cx="500.1" cy="68.3" r="1.65" fill="#bcbd22"/>
<circle cx="502.0" cy="70.9" r="1.65" fill="#bcbd22"/>
<circle cx="512.9" cy="68.3" r="1.65" fill="#bcbd22"/>
<circle cx="514.9" cy="70.2" r="1.65" fill="#bcbd22"/>
<circle cx="511.0" cy="70.9" r="1.65" fill="#bcbd22"/>
<circle cx="508.8" cy="73.1" r="1.65" fill="#bcbd22"/>
<circle cx="513.6" cy="73.1" r="1.65" fill="#bcbd22"/>
<circle cx="504.7" cy="74.5" r="1.65" fill="#bcbd22"/>
<circle cx="528.2" cy="73.8" r="1.65" fill="#bcbd22"/>
<circle cx="529.0" cy="75.3" r="1.65" fill="#bcbd22"/>
<circle cx="531.4" cy="76.7" r="1.65" fill="#bcbd22"/>
<circle cx="558.7" cy="80.1" r="1.65" fill="#bcbd22"/>
<circle cx="526.6" cy="70.5" r="1.65" fill="#1f77b4"/>
<circle cx="502.7" cy="78.5" r="1.65" fill="#1f77b4"/>
<circle cx="520.5" cy="81.6" r="1.65" fill="#1f77b4"/>
<circle cx="526.8" cy="83.0" r="1.65" fill="#1f77b4"/>
<circle cx="529.7" cy="82.3" r="1.65" fill="#1f77b4"/>
<circle cx="538.7" cy="83.3" r="1.65" fill="#1f77b4"/>
<circle cx="530.7" cy="86.7" r="1.65" fill="#1f77b4"/>
<circle cx="513.9" cy="83.6" r="1.65" fill="#1f77b4"/>
<circle cx="516.4" cy="83.0" r="1.65" fill="#1f77b4"/>
<circle cx="535.8" cy="85.1" r="1.65" fill="#1f77b4"/>
<circle cx="510.7" cy="95.4" r="1.65" fill="#1f77b4"/>
<circle cx="512.8" cy="96.7" r="1.65" fill="#1f77b4"/>
<circle cx="520.9" cy="94.7" r="1.65" fill="#1f77b4"/>
<circle cx="528.5" cy="95.7" r="1.65" fill="#1f77b4"/>
<circle cx="528.1" cy="98.3" r="1.65" fill="#1f77b4"/>
<circle cx="536.6" cy="97.6" r="1.65" fill="#1f77b4"/>
<circle cx="541.4" cy="98.6" r="1.65" fill="#1f77b4"/>
<circle cx="556.7" cy="99.7" r="1.65" fill="#1f77b4"/>
<circle cx="508.8" cy="102.7" r="1.65" fill="#1f77b4"/>
<circle cx="561.7" cy="67.7" r="1.65" fill="#2ca02c"/>
<circle cx="581.3" cy="70.5" r="1.65" fill="#2ca02c"/>
<circle cx="590.6" cy="70.0" r="1.65" fill="#2ca02c"/>
<circle cx="598.6" cy="71.6" r="1.65" fill="#2ca02c"/>
<circle cx="590.1" cy="76.4" r="1.65" fill="#2ca02c"/>
<circle cx="582.9" cy="80.4" r="1.65" fill="#2ca02c"/>
<circle cx="566.5" cy="88.9" r="1.65" fill="#2ca02c"/>
<circle cx="578.9" cy="82.8" r="1.65" fill="#2ca02c"/>
<circle cx="580.5" cy="87.6" r="1.65" fill="#2ca02c"/>
<circle cx="578.1" cy="91.5" r="1.65" fill="#2ca02c"/>
<circle cx="586.9" cy="91.5" r="1.65" fill="#2ca02c"/>
<circle cx="586.9" cy="93.6" r="1.65" fill="#2ca02c"/>
<circle cx="592.5" cy="93.2" r="1.65" fill="#2ca02c"/>
<circle cx="600.5" cy="91.1" r="1.65" fill="#2ca02c"/>
<circle cx="584.5" cy="97.2" r="1.65" fill="#2ca02c"/>
<circle cx="590.9" cy="97.2" r="1.65" fill="#2ca02c"/>
<circle cx="595.7" cy="97.5" r="1.65" fill="#2ca02c"/>
<circle cx="604.5" cy="102.0" r="1.65" fill="#2ca02c"/>
<circle cx="664.8" cy="46.4" r="1.65" fill="#e377c2"/>
<circle cx="657.5" cy="52.5" r="1.65" fill="#e377c2"/>
<circle cx="651.1" cy="56.8" r="1.65" fill="#e377c2"/>
<circle cx="655.1" cy="56.8" r="1.65" fill="#e377c2"/>
<circle cx="658.3" cy="56.8" r="1.65" fill="#e377c2"/>
<circle cx="656.7" cy="58.4" r="1.65" fill="#e377c2"/>
<circle cx="652.7" cy="59.2" r="1.65" fill="#e377c2"/>
<circle cx="658.3" cy="60.0" r="1.65" fill="#e377c2"/>
<circle cx="648.2" cy="61.6" r="1.65" fill="#e377c2"/>
<circle cx="654.0" cy="63.6" r="1.65" fill="#e377c2"/>
<circle cx="655.9" cy="55.1" r="1.65" fill="#e377c2"/>
<circle cx="659.6" cy="58.1" r="1.65" fill="#e377c2"/>
<circle cx="592.5" cy="54.4" r="2.3" fill="#e377c2"/>
<circle cx="573.2" cy="56.0" r="1.65" fill="#e377c2"/>
<circle cx="604.5" cy="58.4" r="1.65" fill="#e377c2"/>
<circle cx="601.1" cy="67.4" r="1.65" fill="#e377c2"/>
<circle cx="634.7" cy="66.0" r="1.65" fill="#e377c2"/>
<circle cx="637.8" cy="65.3" r="1.65" fill="#e377c2"/>
<circle cx="623.3" cy="70.0" r="1.65" fill="#e377c2"/>
<circle cx="624.1" cy="72.9" r="1.65" fill="#e377c2"/>
<circle cx="627.8" cy="74.8" r="1.65" fill="#e377c2"/>
<circle cx="639.4" cy="75.6" r="1.65" fill="#e377c2"/>
<circle cx="621.9" cy="76.9" r="1.65" fill="#e377c2"/>
<circle cx="620.9" cy="79.6" r="1.65" fill="#e377c2"/>
<circle cx="614.2" cy="80.6" r="1.65" fill="#e377c2"/>
<circle cx="602.1" cy="81.4" r="1.65" fill="#e377c2"/>
<circle cx="582.1" cy="67.7" r="1.65" fill="#2ca02c"/>
<circle cx="585.3" cy="71.3" r="1.65" fill="#2ca02c"/>
<circle cx="593.8" cy="70.0" r="1.65" fill="#2ca02c"/>
<circle cx="581.3" cy="74.0" r="1.65" fill="#2ca02c"/>
<circle cx="579.2" cy="75.3" r="1.65" fill="#2ca02c"/>
<circle cx="592.5" cy="73.4" r="1.65" fill="#2ca02c"/>
<circle cx="591.7" cy="78.5" r="1.65" fill="#2ca02c"/>
<circle cx="596.5" cy="79.3" r="1.65" fill="#2ca02c"/>
<circle cx="591.7" cy="81.7" r="1.65" fill="#2ca02c"/>
<circle cx="593.3" cy="86.0" r="1.65" fill="#2ca02c"/>
<circle cx="597.6" cy="88.1" r="1.65" fill="#2ca02c"/>
<circle cx="596.5" cy="90.5" r="1.65" fill="#2ca02c"/>
<circle cx="587.9" cy="74.5" r="1.65" fill="#2ca02c"/>
<circle cx="595.2" cy="83.5" r="1.65" fill="#2ca02c"/>
<circle cx="603.4" cy="79.6" r="1.65" fill="#2ca02c"/>
<circle cx="626.7" cy="92.4" r="1.65" fill="#9edae5"/>
<circle cx="627.0" cy="93.6" r="1.65" fill="#9edae5"/>
<circle cx="617.1" cy="99.9" r="1.65" fill="#9edae5"/>
<circle cx="634.7" cy="101.7" r="1.65" fill="#9edae5"/>
<circle cx="639.1" cy="99.9" r="1.65" fill="#9edae5"/>
<circle cx="642.6" cy="99.1" r="1.65" fill="#9edae5"/>
<circle cx="647.9" cy="102.5" r="1.65" fill="#9edae5"/>
<circle cx="651.9" cy="102.8" r="1.65" fill="#9edae5"/>
<circle cx="651.9" cy="104.4" r="1.65" fill="#9edae5"/>
<circle cx="655.5" cy="102.8" r="1.65" fill="#9edae5"/>
<circle cx="663.5" cy="102.5" r="1.65" fill="#9edae5"/>
<circle cx="662.8" cy="104.4" r="1.65" fill="#9edae5"/>
<circle cx="662.4" cy="106.0" r="1.65" fill="#9edae5"/>
<circle cx="653.5" cy="97.2" r="1.65" fill="#e377c2"/>
<circle cx="665.6" cy="110.5" r="1.65" fill="#e377c2"/>
<circle cx="662.0" cy="112.0" r="1.65" fill="#e377c2"/>
<circle cx="578.9" cy="146.3" r="1.65" fill="#9467bd"/>
<circle cx="575.1" cy="149.0" r="1.65" fill="#9467bd"/>
<circle cx="576.8" cy="150.7" r="1.65" fill="#9467bd"/>
<circle cx="569.8" cy="154.2" r="1.65" fill="#9467bd"/>
<circle cx="604.5" cy="96.4" r="1.65" fill="#2ca02c"/>
<circle cx="602.9" cy="98.0" r="1.65" fill="#2ca02c"/>
<circle cx="611.0" cy="96.4" r="1.65" fill="#2ca02c"/>
<circle cx="600.5" cy="104.9" r="1.65" fill="#2ca02c"/>
<circle cx="606.2" cy="106.8" r="1.65" fill="#9467bd"/>
<circle cx="602.1" cy="110.8" r="1.65" fill="#9467bd"/>
<circle cx="613.9" cy="110.5" r="1.65" fill="#9467bd"/>
<circle cx="607.0" cy="98.8" r="1.65" fill="#2ca02c"/>
<circle cx="611.0" cy="93.2" r="1.65" fill="#2ca02c"/>
<circle cx="598.9" cy="94.0" r="1.65" fill="#2ca02c"/>
<circle cx="598.9" cy="98.8" r="1.65" fill="#2ca02c"/>
<circle cx="601.7" cy="101.2" r="1.65" fill="#2ca02c"/>
<circle cx="604.5" cy="104.4" r="1.65" fill="#2ca02c"/>
<circle cx="608.6" cy="104.4" r="1.65" fill="#2ca02c"/>
<circle cx="609.8" cy="107.9" r="1.65" fill="#2ca02c"/>
<circle cx="597.6" cy="109.2" r="1.65" fill="#9467bd"/>
<circle cx="604.5" cy="113.7" r="1.65" fill="#9467bd"/>
<circle cx="610.7" cy="118.1" r="1.65" fill="#9467bd"/>
<circle cx="610.7" cy="129.8" r="1.65" fill="#9467bd"/>
<circle cx="622.5" cy="128.0" r="1.65" fill="#9467bd"/>
<circle cx="635.1" cy="137.8" r="1.65" fill="#9467bd"/>
<circle cx="609.6" cy="146.3" r="1.65" fill="#9467bd"/>
<circle cx="600.9" cy="118.4" r="1.65" fill="#9467bd"/>
<circle cx="600.5" cy="122.9" r="1.65" fill="#9467bd"/>
<circle cx="598.1" cy="129.3" r="1.65" fill="#9467bd"/>
<circle cx="600.5" cy="129.3" r="1.65" fill="#9467bd"/>
<circle cx="601.7" cy="130.6" r="1.65" fill="#9467bd"/>
<circle cx="599.4" cy="127.8" r="1.65" fill="#9467bd"/>
<circle cx="624.6" cy="122.9" r="1.65" fill="#2ca02c"/>
<circle cx="618.5" cy="126.6" r="1.65" fill="#2ca02c"/>
<circle cx="630.6" cy="128.0" r="1.65" fill="#2ca02c"/>
<circle cx="631.9" cy="129.6" r="1.65" fill="#2ca02c"/>
<circle cx="629.4" cy="131.7" r="1.65" fill="#2ca02c"/>
<text x="167.8" y="157.7" font-size="13.2" fill="#000" text-anchor="start" textLength="34.9" lengthAdjust="spacingAndGlyphs" stroke="#000" stroke-width="0.25">N = 23</text>
<text x="406.5" y="158.9" font-size="13.2" fill="#000" text-anchor="start" textLength="28.3" lengthAdjust="spacingAndGlyphs" stroke="#000" stroke-width="0.25">N = 9</text>
<text x="646.0" y="158.9" font-size="13.2" fill="#000" text-anchor="start" textLength="28.6" lengthAdjust="spacingAndGlyphs" stroke="#000" stroke-width="0.25">N = 6</text>
<g clip-path="url(#c2)" shape-rendering="crispEdges">
<rect x="142.8" y="295.8" width="407.1" height="172.4" fill="#fff8c8"/>
<polygon points="142.8,300.7 281.0,300.7 281.0,295.8 549.9,295.8 549.9,410.8 537.3,410.8 537.3,468.2 142.8,468.2" fill="#fee496"/>
<rect x="144.3" y="300" width="2.6" height="6" fill="#fff8c8"/>
<rect x="151.2" y="300" width="2.6" height="6" fill="#fff8c8"/>
<polygon points="142.8,326.9 163.0,326.9 163.0,321.3 203.6,321.3 203.6,306.6 282.6,306.6 282.6,300.7 295.4,300.7 295.4,306.8 346.0,306.8 346.0,300.9 371.3,300.9 371.3,295.8 549.9,295.8 549.9,371.6 537.3,371.6 537.3,382.4 524.6,382.4 524.6,443.1 490.3,443.1 490.3,457.8 477.6,457.8 477.6,468.2 142.8,468.2" fill="#feb442"/>
<polygon points="142.8,371.9 161.7,371.9 161.7,369.8 197.8,369.8 197.8,332.7 208.2,332.7 208.2,327.0 283.4,327.0 283.4,322.1 293.8,322.1 293.8,326.6 317.0,326.6 317.0,321.8 338.2,321.8 338.2,326.6 341.6,326.6 341.6,307.0 385.1,307.0 385.1,300.9 477.6,300.9 477.6,295.8 549.9,295.8 549.9,326.2 537.3,326.2 537.3,365.8 524.6,365.8 524.6,384.4 490.3,384.4 490.3,386.3 477.6,386.3 477.6,441.3 462.5,441.3 462.5,445.3 410.0,445.3 410.0,442.9 394.0,442.9 394.0,445.3 385.6,445.3 385.6,457.8 371.3,457.8 371.3,468.2 142.8,468.2" fill="#ef7c1c"/>
<polygon points="142.8,385.5 161.7,385.5 161.7,382.3 197.8,382.3 197.8,373.5 283.4,373.5 283.4,371.0 317.0,371.0 317.0,366.2 320.9,366.2 320.9,362.2 338.2,362.2 338.2,365.4 341.6,365.4 341.6,332.4 346.0,332.4 346.0,321.6 371.3,321.6 371.3,326.2 373.6,326.2 373.6,321.6 385.0,321.6 385.0,307.0 409.9,307.0 409.9,300.9 489.9,300.9 489.9,295.8 549.9,295.8 549.9,320.8 538.2,320.8 538.2,355.3 524.6,355.3 524.6,365.8 490.3,365.8 490.3,384.4 477.6,384.4 477.6,383.4 394.0,383.4 394.0,394.0 372.1,394.0 372.1,409.1 366.0,409.1 366.0,445.2 346.0,445.2 346.0,458.2 340.6,458.2 340.6,468.2 142.8,468.2" fill="#cc4d04"/>
<polygon points="142.8,416.5 160.9,416.5 160.9,410.4 172.1,410.4 172.1,404.0 218.7,404.0 218.7,399.2 228.3,399.2 228.3,386.2 251.4,386.2 251.4,393.8 270.6,393.8 270.6,386.1 282.9,386.1 282.9,384.6 293.6,384.6 293.6,382.5 317.3,382.5 317.3,372.3 338.3,372.3 338.3,366.1 366.7,366.1 366.7,333.1 370.6,333.1 370.6,355.3 385.1,355.3 385.1,327.0 394.6,327.0 394.6,321.6 462.8,321.6 462.8,307.0 525.2,307.0 525.2,300.9 538.2,300.9 538.2,295.8 549.9,295.8 549.9,300.9 538.2,300.9 538.2,307.0 524.4,307.0 524.4,333.1 489.9,333.1 489.9,362.2 477.6,362.2 477.6,365.8 462.8,365.8 462.8,366.1 409.9,366.1 409.9,365.3 385.6,365.3 385.6,383.4 371.3,383.4 371.3,393.0 346.0,393.0 346.0,407.0 337.6,407.0 337.6,432.9 306.1,432.9 306.1,436.0 295.2,436.0 295.2,456.7 281.3,456.7 281.3,462.0 269.1,462.0 269.1,467.4 251.0,467.4 251.0,468.2 142.8,468.2" fill="#8b3007"/>
<polygon points="142.8,462.0 147.9,454.8 155.8,447.8 162.8,444.3 169.8,441.6 170.7,432.0 180.3,430.3 208.3,429.7 208.3,415.6 249.9,415.6 249.9,404.5 282.9,404.5 282.9,394.6 316.1,394.6 316.1,383.0 345.2,383.0 345.2,372.2 366.3,372.2 366.3,366.2 385.4,366.2 385.4,327.0 477.6,327.0 477.6,307.0 525.2,307.0 525.2,300.9 538.2,300.9 538.2,295.8 549.9,295.8 549.9,300.9 538.2,300.9 538.2,307.0 525.2,307.0 525.2,326.2 477.6,326.2 477.6,365.3 462.8,365.3 462.8,362.2 409.9,362.2 409.9,365.3 385.4,365.3 385.4,373.8 371.5,373.8 371.5,383.0 345.2,383.0 345.2,394.6 316.1,394.6 316.1,409.1 295.2,409.1 295.2,424.5 269.8,424.5 269.8,441.3 249.9,441.3 249.9,445.5 231.1,446.0 231.1,456.5 204.8,457.4 190.8,462.7 176.8,466.2 164.5,468.2 142.8,468.2" fill="#662506"/>
<rect x="385.4" y="333.1" width="8.6" height="22.2" fill="#8b3007"/>
<rect x="385.6" y="372.2" width="77" height="1.5" fill="#8b3007"/>
<rect x="320.7" y="414.5" width="16.9" height="8.5" fill="#cc4d04"/>
<rect x="231.1" y="450.2" width="19.8" height="4.1" fill="#662506"/>
<rect x="524.6" y="403.9" width="12.7" height="4.9" fill="#feb442"/>
</g>
<line x1="244.6" y1="209.6" x2="244.6" y2="555.0" stroke="#9467bd" stroke-width="1.9" stroke-dasharray="5.6 2.3" stroke-dashoffset="1.4"/>
<line x1="429.3" y1="209.6" x2="429.3" y2="555.0" stroke="#9467bd" stroke-width="1.9" stroke-dasharray="5.6 2.3" stroke-dashoffset="1.4"/>
<line x1="501.6" y1="209.6" x2="501.6" y2="555.0" stroke="#9467bd" stroke-width="1.9" stroke-dasharray="5.6 2.3" stroke-dashoffset="1.4"/>
<g clip-path="url(#c1)">
<path d="M143.2 217.1 L170.0 218.2 L200.0 219.4 L225.0 220.3 L240.0 220.9 L250.0 221.0 L269.1 221.7 L270.0 222.2 L288.5 224.1 L292.0 223.6 L300.0 224.6 L312.8 225.2 L318.0 225.0 L326.0 226.0 L337.1 226.0 L340.3 227.7 L350.0 228.3 L356.2 228.9 L358.0 228.4 L361.0 229.0 L365.9 228.5 L368.3 230.1 L385.3 230.9 L395.0 232.2 L409.6 232.2 L411.2 233.6 L462.0 233.6 L463.3 239.0 L476.6 239.0 L478.2 241.4 L488.7 241.4 L490.3 243.3 L524.0 243.3 L525.4 249.5 L537.2 249.5 L538.9 251.9 L549.6 251.9" stroke="#1f77b4" stroke-width="1.8" fill="none" stroke-linejoin="round"/>
<path d="M143.2 216.4 L146.3 220.5 L150.0 221.6 L150.8 223.8 L153.5 223.8 L154.5 225.9 L159.6 225.9 L160.7 228.1 L163.7 228.1 L165.2 230.3 L167.8 230.3 L168.8 232.5 L191.4 232.5 L192.2 234.6 L197.4 234.6 L198.3 236.8 L203.1 236.8 L204.7 241.2 L227.4 241.2 L228.7 245.5 L249.7 245.5 L252.1 249.9 L269.1 249.9 L271.6 254.2 L280.5 254.2 L282.9 258.6 L295.0 258.6 L296.6 260.8 L305.5 260.8 L307.2 262.9 L337.1 262.9 L338.7 265.1 L345.5 265.1 L347.1 267.3 L365.9 267.3 L367.5 269.5 L370.7 269.5 L372.4 271.7 L374.0 273.8 L384.5 273.8 L386.1 276.0 L462.0 276.0 L463.6 278.2 L476.6 278.2 L478.2 280.4 L489.5 280.4 L491.1 282.5 L524.3 282.5 L525.9 284.7 L537.2 284.7 L538.9 286.9 L549.6 286.9" stroke="#d62728" stroke-width="1.9" fill="none" stroke-linejoin="round"/>
</g>
<g clip-path="url(#c2)">
<path d="M143.2 419.3 L144.4 417.7 L145.6 416.9 L147.2 420.1 L148.0 416.1 L149.1 417.5 L150.1 420.7 L151.2 422.5 L152.3 420.5 L153.5 420.3 L154.8 419.5 L156.1 418.5 L157.2 419.4 L158.4 419.9 L159.5 422.0 L160.4 422.9 L161.4 422.8 L162.4 424.6 L163.3 425.7 L164.4 423.2 L165.4 421.6 L166.5 420.9 L167.6 420.7 L168.6 421.6 L169.7 420.9 L170.9 422.1 L172.1 424.9 L173.3 423.9 L174.5 424.1 L175.8 426.1 L177.0 427.5 L178.2 430.0 L179.3 430.5 L180.2 430.1 L181.2 429.2 L182.1 429.9 L183.0 428.3 L184.2 426.7 L185.4 427.9 L186.6 426.5 L188.2 428.9 L189.3 428.1 L190.4 427.5 L191.5 428.0 L192.5 427.7 L193.6 428.7 L194.6 429.7 L195.8 427.6 L197.0 424.1 L198.6 428.1 L199.7 426.9 L200.8 427.4 L201.9 427.1 L203.0 426.3 L204.1 425.5 L205.2 425.3 L206.3 423.7 L207.4 424.1 L208.5 422.1 L209.6 421.3 L210.7 420.9 L211.6 421.9 L212.6 422.0 L213.5 422.8 L214.7 422.6 L215.9 423.3 L217.1 423.3 L218.1 422.4 L219.0 421.3 L220.0 421.0 L220.9 421.2 L221.9 420.5 L222.9 419.0 L223.8 419.1 L224.8 420.0 L225.9 420.7 L226.9 421.4 L228.2 421.7 L229.5 420.3 L230.4 420.9 L231.4 420.0 L232.3 420.6 L233.4 422.5 L234.4 421.4 L235.5 423.0 L236.5 424.3 L237.4 426.6 L238.4 427.5 L239.6 431.3 L240.7 436.7 L242.0 434.5 L243.5 441.0 L244.4 442.7 L245.3 444.4 L246.3 442.9 L247.4 443.8 L248.4 442.9 L249.6 439.6 L250.7 435.2 L251.8 433.1 L253.0 430.6 L254.5 435.2 L256.0 433.0 L257.6 441.3 L259.0 437.5 L260.6 430.6 L261.8 430.7 L262.9 429.1 L263.9 428.5 L265.0 429.2 L266.0 428.6 L267.2 427.5 L268.5 426.0 L269.6 426.6 L270.6 426.8 L271.8 423.8 L273.0 421.0 L274.1 418.9 L275.2 415.3 L276.1 413.9 L277.0 410.5 L278.0 407.4 L279.0 404.5 L280.1 401.8 L281.3 398.4 L282.9 403.8 L283.9 401.7 L285.0 401.5 L286.2 402.6 L287.5 402.9 L288.5 403.0 L289.6 403.5 L290.6 402.2 L292.0 397.5 L293.6 393.8 L294.8 392.9 L296.0 390.5 L297.3 392.2 L298.4 389.7 L299.4 387.9 L300.5 386.1 L301.3 382.5 L302.2 380.0 L303.1 376.8 L304.5 380.5 L306.1 379.9 L307.3 377.6 L308.5 377.5 L309.5 376.2 L310.5 374.3 L311.5 373.8 L312.8 373.7 L314.0 375.3 L315.0 373.8 L315.9 374.9 L316.9 373.8 L317.9 371.5 L318.9 370.2 L319.9 369.2 L321.5 373.5 L323.0 377.6 L324.2 375.6 L325.5 374.0 L326.5 374.8 L327.4 372.9 L328.4 373.8 L329.4 370.3 L330.5 367.0 L331.5 364.9 L332.5 362.5 L333.5 361.7 L334.5 359.2 L336.0 362.0 L337.5 358.5 L338.5 359.4 L339.6 359.8 L340.6 359.2 L341.6 360.9 L342.5 363.5 L343.5 364.6 L344.5 366.1 L346.0 361.0 L347.5 360.0 L348.5 361.9 L349.5 364.5 L350.8 367.7 L352.1 369.2 L353.7 365.3 L354.6 366.9 L355.5 366.5 L356.5 365.1 L357.5 365.3 L358.5 361.2 L359.5 358.5 L360.8 354.4 L362.1 351.5 L363.2 350.9 L364.4 351.5 L366.0 357.7 L367.5 354.0 L369.0 353.1 L370.0 355.0 L371.0 357.0 L372.3 360.2 L373.6 363.0 L375.0 359.5 L376.7 358.4 L377.6 358.9 L378.5 360.5 L379.5 358.4 L380.5 358.4 L382.0 362.5 L383.6 366.0 L384.6 363.1 L385.5 360.6 L386.8 363.2 L388.0 366.4 L389.2 364.2 L390.4 361.7 L391.3 366.2 L392.2 369.1 L393.1 372.2 L394.0 373.8 L395.0 375.6 L395.9 376.9 L396.9 378.7 L397.8 379.7 L398.8 376.8 L399.7 375.9 L400.6 379.0 L401.6 380.9 L402.5 382.5 L403.5 386.1 L404.5 388.0 L405.4 392.0 L406.3 394.7 L407.2 393.8 L408.2 393.2 L409.1 392.8 L410.0 399.4 L411.2 398.1 L412.5 398.5 L413.6 399.7 L414.7 400.3 L415.6 404.1 L416.5 402.8 L417.5 402.5 L418.4 403.1 L419.4 415.3 L420.4 413.7 L421.3 413.4 L422.2 413.3 L423.2 414.3 L424.1 415.3 L425.9 424.7 L427.5 423.8 L429.1 426.6 L430.3 421.9 L431.4 421.2 L432.5 422.5 L433.4 420.2 L434.4 420.0 L435.7 420.7 L437.0 423.0 L438.0 423.0 L439.0 424.4 L440.0 425.6 L440.9 422.7 L441.9 421.9 L442.8 424.0 L443.8 424.6 L444.7 425.6 L445.6 423.5 L446.5 423.0 L447.5 423.1 L448.5 424.3 L449.4 423.2 L450.4 422.4 L451.3 421.9 L452.6 422.4 L454.0 424.5 L455.0 426.0 L455.9 427.0 L456.9 426.6 L458.2 424.5 L459.5 422.5 L460.5 421.6 L461.5 419.9 L462.5 420.0 L463.9 419.6 L464.9 420.0 L465.9 421.9 L466.9 423.5 L467.9 421.3 L468.8 421.0 L469.8 418.6 L470.8 419.2 L471.7 420.2 L472.7 422.5 L473.7 422.5 L474.7 420.6 L475.7 419.6 L476.6 409.0 L477.6 400.0 L478.6 396.7 L479.6 393.2 L480.6 393.6 L481.5 396.1 L482.5 411.8 L483.5 417.6 L484.5 415.7 L485.4 414.8 L486.4 411.8 L487.4 409.6 L488.4 405.9 L489.4 409.8 L490.4 406.3 L491.3 402.0 L492.3 401.5 L493.3 401.7 L494.3 402.0 L495.2 403.7 L496.2 406.9 L497.1 406.5 L498.0 404.9 L499.1 406.0 L500.1 406.9 L501.1 418.6 L502.1 419.2 L503.0 418.2 L504.0 418.6 L505.0 409.8 L506.0 408.2 L507.0 407.8 L507.9 401.6 L508.9 394.1 L510.6 384.0 L511.9 374.6 L512.9 370.7 L513.8 364.9 L514.8 357.0 L516.0 344.6 L517.1 334.6 L518.3 343.1 L519.8 339.5 L521.3 338.5 L522.5 331.6 L523.7 323.1 L524.8 329.5 L526.0 332.3 L527.0 330.3 L528.0 327.0 L529.8 323.1 L531.3 327.7 L532.5 326.1 L533.6 323.1 L535.2 310.9 L536.2 334.6 L537.2 328.2 L538.2 320.8 L539.0 340.0 L539.5 383.0 L539.9 387.3 L541.0 381.3 L542.2 376.5 L544.0 378.6 L545.0 379.1 L546.1 379.5 L547.5 376.8 L548.5 376.8 L549.5 377.5" stroke="#2ca02c" stroke-width="2.3" fill="none" stroke-linejoin="round"/>
</g>
<path d="M166.1 523.2C167.4 523.3 170.7 523.5 173.7 523.9C176.7 524.3 180.4 525.2 184.0 525.9C187.6 526.5 190.3 527.3 195.2 527.8C200.1 528.3 207.5 528.3 213.6 528.8C219.7 529.3 226.9 530.7 232.0 530.9C237.1 531.1 240.1 530.8 244.2 530.0C248.3 529.2 251.9 528.2 256.5 526.3C261.1 524.4 266.2 521.4 271.8 518.6C277.4 515.8 285.5 511.5 290.2 509.4C294.9 507.3 296.7 506.8 300.0 505.8C303.3 504.8 306.6 504.4 310.1 503.3C313.6 502.2 317.2 500.8 321.0 499.2C324.8 497.6 329.9 494.8 333.1 493.5C336.3 492.2 336.2 492.3 340.0 491.5C343.8 490.7 350.5 489.5 355.7 488.5C360.9 487.5 367.2 486.1 371.4 485.7C375.6 485.3 377.9 485.3 380.8 486.0C383.7 486.7 385.7 487.3 388.6 490.1C391.5 492.9 395.0 497.7 398.1 502.7C401.2 507.7 404.1 513.9 407.5 519.9C410.9 525.9 414.9 533.9 418.5 538.8C422.1 543.7 426.2 547.0 428.8 549.1C431.4 551.2 432.3 551.2 434.2 551.3C436.1 551.4 437.8 551.5 440.4 549.7C443.0 547.9 446.2 545.0 449.9 540.3C453.6 535.6 458.8 526.5 462.4 521.5C466.0 516.5 468.9 512.9 471.8 510.5C474.7 508.1 477.1 507.5 479.7 507.4C482.3 507.2 484.9 508.9 487.5 509.6C490.1 510.3 493.1 511.6 495.4 511.5C497.6 511.4 498.6 511.4 501.0 508.9C503.4 506.4 506.5 501.1 509.5 496.4C512.5 491.7 516.2 484.8 518.9 480.7C521.6 476.6 524.6 473.4 525.8 471.9" stroke="#9467bd" stroke-width="2.3" fill="none" stroke-linecap="round"/>
<circle cx="244.6" cy="530.3" r="3.4" fill="#9467bd"/>
<circle cx="429.0" cy="549.1" r="3.4" fill="#9467bd"/>
<circle cx="501.4" cy="509.0" r="3.4" fill="#9467bd"/>
<rect x="142.8" y="209.6" width="407.1" height="86.2" fill="none" stroke="#000" stroke-width="0.9"/>
<rect x="142.8" y="295.8" width="407.1" height="172.4" fill="none" stroke="#000" stroke-width="0.9"/>
<rect x="142.8" y="468.2" width="407.1" height="86.8" fill="none" stroke="#000" stroke-width="0.9"/>
<line x1="139.20000000000002" y1="210.8" x2="142.8" y2="210.8" stroke="#1f77b4" stroke-width="0.9"/>
<text x="119.7" y="214.9" font-size="10" fill="#1f77b4" text-anchor="start" textLength="15.9" lengthAdjust="spacingAndGlyphs"  stroke="#1f77b4" stroke-width="0.18">1.0</text>
<line x1="139.20000000000002" y1="253.3" x2="142.8" y2="253.3" stroke="#1f77b4" stroke-width="0.9"/>
<text x="119.7" y="257.4" font-size="10" fill="#1f77b4" text-anchor="start" textLength="15.9" lengthAdjust="spacingAndGlyphs"  stroke="#1f77b4" stroke-width="0.18">0.5</text>
<line x1="139.20000000000002" y1="295.8" x2="142.8" y2="295.8" stroke="#1f77b4" stroke-width="0.9"/>
<text x="119.7" y="299.9" font-size="10" fill="#1f77b4" text-anchor="start" textLength="15.9" lengthAdjust="spacingAndGlyphs"  stroke="#1f77b4" stroke-width="0.18">0.0</text>
<line x1="549.9" y1="230.3" x2="553.5" y2="230.3" stroke="#d62728" stroke-width="0.9"/>
<text x="557.2" y="234.4" font-size="10" fill="#d62728" text-anchor="start" textLength="12.7" lengthAdjust="spacingAndGlyphs"  stroke="#d62728" stroke-width="0.18">30</text>
<line x1="549.9" y1="252.1" x2="553.5" y2="252.1" stroke="#d62728" stroke-width="0.9"/>
<text x="557.2" y="256.2" font-size="10" fill="#d62728" text-anchor="start" textLength="12.7" lengthAdjust="spacingAndGlyphs"  stroke="#d62728" stroke-width="0.18">20</text>
<line x1="549.9" y1="273.9" x2="553.5" y2="273.9" stroke="#d62728" stroke-width="0.9"/>
<text x="557.2" y="278.0" font-size="10" fill="#d62728" text-anchor="start" textLength="12.7" lengthAdjust="spacingAndGlyphs"  stroke="#d62728" stroke-width="0.18">10</text>
<line x1="549.9" y1="295.6" x2="553.5" y2="295.6" stroke="#d62728" stroke-width="0.9"/>
<text x="557.2" y="299.7" font-size="10" fill="#d62728" text-anchor="start" textLength="6.4" lengthAdjust="spacingAndGlyphs"  stroke="#d62728" stroke-width="0.18">0</text>
<line x1="139.20000000000002" y1="316.4" x2="142.8" y2="316.4" stroke="#000" stroke-width="0.9"/>
<text x="113.3" y="320.5" font-size="10" fill="#000" text-anchor="start" textLength="22.3" lengthAdjust="spacingAndGlyphs"  stroke="#000" stroke-width="0.18">0.50</text>
<line x1="139.20000000000002" y1="341.7" x2="142.8" y2="341.7" stroke="#000" stroke-width="0.9"/>
<text x="113.3" y="345.8" font-size="10" fill="#000" text-anchor="start" textLength="22.3" lengthAdjust="spacingAndGlyphs"  stroke="#000" stroke-width="0.18">0.25</text>
<line x1="139.20000000000002" y1="367.0" x2="142.8" y2="367.0" stroke="#000" stroke-width="0.9"/>
<text x="113.3" y="371.1" font-size="10" fill="#000" text-anchor="start" textLength="22.3" lengthAdjust="spacingAndGlyphs"  stroke="#000" stroke-width="0.18">0.00</text>
<line x1="139.20000000000002" y1="392.3" x2="142.8" y2="392.3" stroke="#000" stroke-width="0.9"/>
<text x="105.0" y="396.4" font-size="10" fill="#000" text-anchor="start" textLength="30.6" lengthAdjust="spacingAndGlyphs"  stroke="#000" stroke-width="0.18">−0.25</text>
<line x1="139.20000000000002" y1="417.6" x2="142.8" y2="417.6" stroke="#000" stroke-width="0.9"/>
<text x="105.0" y="421.7" font-size="10" fill="#000" text-anchor="start" textLength="30.6" lengthAdjust="spacingAndGlyphs"  stroke="#000" stroke-width="0.18">−0.50</text>
<line x1="139.20000000000002" y1="442.9" x2="142.8" y2="442.9" stroke="#000" stroke-width="0.9"/>
<text x="105.0" y="447.0" font-size="10" fill="#000" text-anchor="start" textLength="30.6" lengthAdjust="spacingAndGlyphs"  stroke="#000" stroke-width="0.18">−0.75</text>
<line x1="139.20000000000002" y1="468.2" x2="142.8" y2="468.2" stroke="#000" stroke-width="0.9"/>
<text x="105.0" y="472.3" font-size="10" fill="#000" text-anchor="start" textLength="30.6" lengthAdjust="spacingAndGlyphs"  stroke="#000" stroke-width="0.18">−1.00</text>
<line x1="549.9" y1="329.0" x2="553.5" y2="329.0" stroke="#2ca02c" stroke-width="0.9"/>
<text x="557.2" y="333.1" font-size="10" fill="#2ca02c" text-anchor="start" textLength="22.3" lengthAdjust="spacingAndGlyphs"  stroke="#2ca02c" stroke-width="0.18">0.20</text>
<line x1="549.9" y1="363.8" x2="553.5" y2="363.8" stroke="#2ca02c" stroke-width="0.9"/>
<text x="557.2" y="367.9" font-size="10" fill="#2ca02c" text-anchor="start" textLength="22.3" lengthAdjust="spacingAndGlyphs"  stroke="#2ca02c" stroke-width="0.18">0.15</text>
<line x1="549.9" y1="398.6" x2="553.5" y2="398.6" stroke="#2ca02c" stroke-width="0.9"/>
<text x="557.2" y="402.7" font-size="10" fill="#2ca02c" text-anchor="start" textLength="22.3" lengthAdjust="spacingAndGlyphs"  stroke="#2ca02c" stroke-width="0.18">0.10</text>
<line x1="549.9" y1="433.4" x2="553.5" y2="433.4" stroke="#2ca02c" stroke-width="0.9"/>
<text x="557.2" y="437.5" font-size="10" fill="#2ca02c" text-anchor="start" textLength="22.3" lengthAdjust="spacingAndGlyphs"  stroke="#2ca02c" stroke-width="0.18">0.05</text>
<line x1="549.9" y1="468.2" x2="553.5" y2="468.2" stroke="#2ca02c" stroke-width="0.9"/>
<text x="557.2" y="472.3" font-size="10" fill="#2ca02c" text-anchor="start" textLength="22.3" lengthAdjust="spacingAndGlyphs"  stroke="#2ca02c" stroke-width="0.18">0.00</text>
<line x1="139.20000000000002" y1="499.3" x2="142.8" y2="499.3" stroke="#9467bd" stroke-width="0.9"/>
<text x="119.7" y="503.4" font-size="10" fill="#9467bd" text-anchor="start" textLength="15.9" lengthAdjust="spacingAndGlyphs"  stroke="#9467bd" stroke-width="0.18">0.1</text>
<line x1="139.20000000000002" y1="529.3" x2="142.8" y2="529.3" stroke="#9467bd" stroke-width="0.9"/>
<text x="113.3" y="533.4" font-size="10" fill="#9467bd" text-anchor="start" textLength="22.3" lengthAdjust="spacingAndGlyphs"  stroke="#9467bd" stroke-width="0.18">0.05</text>
<line x1="142.8" y1="555.0" x2="142.8" y2="558.6" stroke="#000" stroke-width="0.9"/>
<text x="130.7" y="570.6" font-size="10" fill="#000" text-anchor="start" textLength="24.3" lengthAdjust="spacingAndGlyphs"  stroke="#000" stroke-width="0.18">−1.0</text>
<line x1="190.7" y1="555.0" x2="190.7" y2="558.6" stroke="#000" stroke-width="0.9"/>
<text x="178.6" y="570.6" font-size="10" fill="#000" text-anchor="start" textLength="24.3" lengthAdjust="spacingAndGlyphs"  stroke="#000" stroke-width="0.18">−0.8</text>
<line x1="238.6" y1="555.0" x2="238.6" y2="558.6" stroke="#000" stroke-width="0.9"/>
<text x="226.4" y="570.6" font-size="10" fill="#000" text-anchor="start" textLength="24.3" lengthAdjust="spacingAndGlyphs"  stroke="#000" stroke-width="0.18">−0.6</text>
<line x1="286.5" y1="555.0" x2="286.5" y2="558.6" stroke="#000" stroke-width="0.9"/>
<text x="274.3" y="570.6" font-size="10" fill="#000" text-anchor="start" textLength="24.3" lengthAdjust="spacingAndGlyphs"  stroke="#000" stroke-width="0.18">−0.4</text>
<line x1="334.4" y1="555.0" x2="334.4" y2="558.6" stroke="#000" stroke-width="0.9"/>
<text x="322.2" y="570.6" font-size="10" fill="#000" text-anchor="start" textLength="24.3" lengthAdjust="spacingAndGlyphs"  stroke="#000" stroke-width="0.18">−0.2</text>
<line x1="382.3" y1="555.0" x2="382.3" y2="558.6" stroke="#000" stroke-width="0.9"/>
<text x="374.3" y="570.6" font-size="10" fill="#000" text-anchor="start" textLength="15.9" lengthAdjust="spacingAndGlyphs"  stroke="#000" stroke-width="0.18">0.0</text>
<line x1="430.2" y1="555.0" x2="430.2" y2="558.6" stroke="#000" stroke-width="0.9"/>
<text x="422.2" y="570.6" font-size="10" fill="#000" text-anchor="start" textLength="15.9" lengthAdjust="spacingAndGlyphs"  stroke="#000" stroke-width="0.18">0.2</text>
<line x1="478.1" y1="555.0" x2="478.1" y2="558.6" stroke="#000" stroke-width="0.9"/>
<text x="470.1" y="570.6" font-size="10" fill="#000" text-anchor="start" textLength="15.9" lengthAdjust="spacingAndGlyphs"  stroke="#000" stroke-width="0.18">0.4</text>
<line x1="526.0" y1="555.0" x2="526.0" y2="558.6" stroke="#000" stroke-width="0.9"/>
<text x="518.0" y="570.6" font-size="10" fill="#000" text-anchor="start" textLength="15.9" lengthAdjust="spacingAndGlyphs"  stroke="#000" stroke-width="0.18">0.6</text>
<text transform="translate(109.3 252.6) rotate(-90)" x="-20.5" y="3.6" font-size="10" fill="#1f77b4" textLength="40.9" lengthAdjust="spacingAndGlyphs">Stability</text>
<text transform="translate(579.4 252.5) rotate(-90)" x="-25.4" y="3.6" font-size="10" fill="#d62728" textLength="50.8" lengthAdjust="spacingAndGlyphs"># clusters</text>
<text transform="translate(588.6 382.4) rotate(-90)" x="-8.6" y="3.6" font-size="10" fill="#2ca02c" textLength="17.3" lengthAdjust="spacingAndGlyphs">NVI</text>
<text transform="translate(102.6 512.0) rotate(-90)" x="-23.8" y="3.6" font-size="10" fill="#9467bd" textLength="47.5" lengthAdjust="spacingAndGlyphs">Block NVI</text>
<text transform="translate(96.2 403.0) rotate(-90)" font-size="10" font-style="italic" fill="#1a1a1a"><tspan textLength="15.4" lengthAdjust="spacingAndGlyphs">log</tspan><tspan font-size="7" dy="1.8" font-style="normal" textLength="8.9" lengthAdjust="spacingAndGlyphs">10</tspan><tspan dy="-1.8" textLength="15.2" lengthAdjust="spacingAndGlyphs">(t′)</tspan></text>
<text x="327.2" y="583.6" font-size="10" font-style="italic" fill="#1a1a1a"><tspan textLength="15.4" lengthAdjust="spacingAndGlyphs">log</tspan><tspan font-size="7" dy="1.8" font-style="normal" textLength="8.9" lengthAdjust="spacingAndGlyphs">10</tspan><tspan dy="-1.8" textLength="12.2" lengthAdjust="spacingAndGlyphs">(t)</tspan></text>
<rect x="163.0" y="321.50" width="12.3" height="11.3" fill="#fff8c8"/>
<rect x="163.0" y="332.55" width="12.3" height="11.3" fill="#fee496"/>
<rect x="163.0" y="343.60" width="12.3" height="11.3" fill="#feb442"/>
<rect x="163.0" y="354.65" width="12.3" height="11.3" fill="#ef7c1c"/>
<rect x="163.0" y="365.70" width="12.3" height="11.3" fill="#cc4d04"/>
<rect x="163.0" y="376.75" width="12.3" height="11.3" fill="#8b3007"/>
<path d="M163.0 387.8L169.2 391.0L175.3 387.8Z" fill="#662506"/>
<path d="M163.0 321.5L175.3 321.5L175.3 387.8L169.2 391.0L163.0 387.8Z" fill="none" stroke="#000" stroke-width="0.8"/>
<line x1="175.3" y1="321.5" x2="178.5" y2="321.5" stroke="#000" stroke-width="0.8"/>
<text x="182.3" y="324.6" font-size="7.5" fill="#000" text-anchor="start" textLength="11.0" lengthAdjust="spacingAndGlyphs" >0.7</text>
<line x1="175.3" y1="332.6" x2="178.5" y2="332.6" stroke="#000" stroke-width="0.8"/>
<text x="182.3" y="335.7" font-size="7.5" fill="#000" text-anchor="start" textLength="11.0" lengthAdjust="spacingAndGlyphs" >0.6</text>
<line x1="175.3" y1="343.6" x2="178.5" y2="343.6" stroke="#000" stroke-width="0.8"/>
<text x="182.3" y="346.7" font-size="7.5" fill="#000" text-anchor="start" textLength="11.0" lengthAdjust="spacingAndGlyphs" >0.5</text>
<line x1="175.3" y1="354.6" x2="178.5" y2="354.6" stroke="#000" stroke-width="0.8"/>
<text x="182.3" y="357.8" font-size="7.5" fill="#000" text-anchor="start" textLength="11.0" lengthAdjust="spacingAndGlyphs" >0.4</text>
<line x1="175.3" y1="365.7" x2="178.5" y2="365.7" stroke="#000" stroke-width="0.8"/>
<text x="182.3" y="368.8" font-size="7.5" fill="#000" text-anchor="start" textLength="11.0" lengthAdjust="spacingAndGlyphs" >0.3</text>
<line x1="175.3" y1="376.8" x2="178.5" y2="376.8" stroke="#000" stroke-width="0.8"/>
<text x="182.3" y="379.9" font-size="7.5" fill="#000" text-anchor="start" textLength="11.0" lengthAdjust="spacingAndGlyphs" >0.2</text>
<line x1="175.3" y1="387.8" x2="178.5" y2="387.8" stroke="#000" stroke-width="0.8"/>
<text x="182.3" y="390.9" font-size="7.5" fill="#000" text-anchor="start" textLength="11.0" lengthAdjust="spacingAndGlyphs" >0.1</text>
<text transform="translate(203.0 354.0) rotate(-90)" x="-19.4" y="3.4" font-size="10" fill="#000" textLength="38.8" lengthAdjust="spacingAndGlyphs">NVI(t,t')</text>
<line x1="109.2" y1="167.2" x2="240.2" y2="231.6" stroke="#1f3864" stroke-width="2.6"/>
<line x1="340.0" y1="168.6" x2="431.0" y2="260.0" stroke="#1f3864" stroke-width="2.6"/>
<line x1="574.4" y1="168.8" x2="502.6" y2="262.2" stroke="#1f3864" stroke-width="2.6"/>
<rect x="229.6" y="232.1" width="24.5" height="25.1" fill="none" stroke="#1f3864" stroke-width="3"/>
<rect x="420.3" y="260.8" width="24.4" height="25.1" fill="none" stroke="#1f3864" stroke-width="3"/>
<rect x="490.6" y="262.9" width="23.7" height="25.0" fill="none" stroke="#1f3864" stroke-width="3"/>
</svg>
</body></html>
